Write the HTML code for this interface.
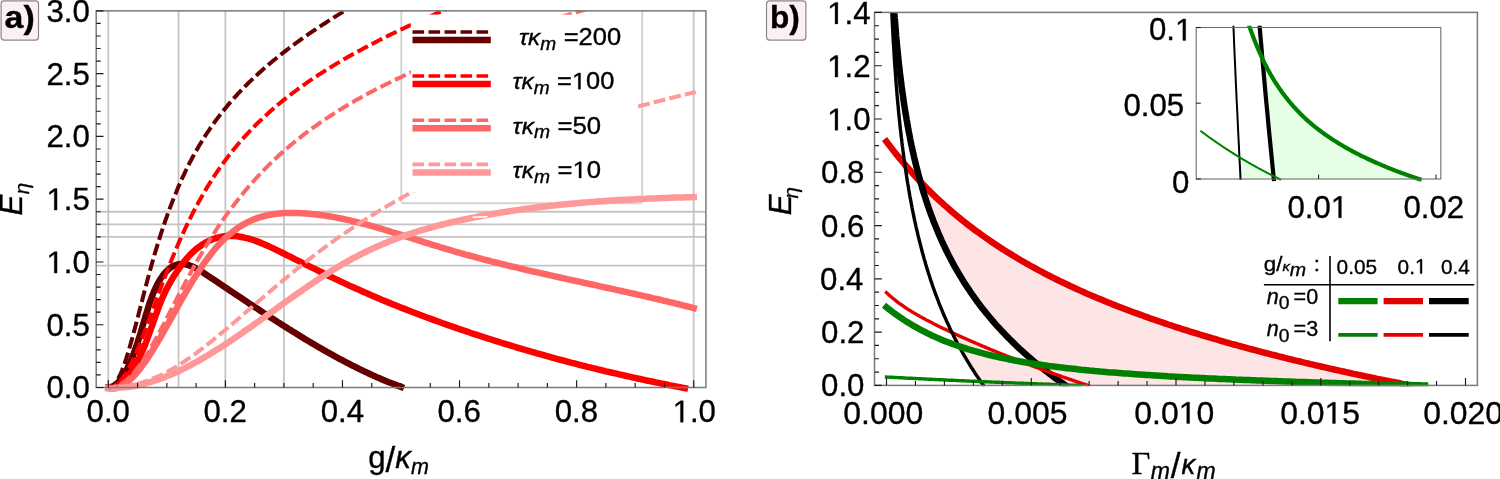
<!DOCTYPE html>
<html><head><meta charset="utf-8"><title>fig</title>
<style>
html,body{margin:0;padding:0;background:#fff;overflow:hidden;}
svg{display:block;}
text{font-family:"Liberation Sans",sans-serif;fill:#000;}
.i{font-style:italic;}
.ser{font-family:"Liberation Serif",serif;}
.tx text{stroke:#000;stroke-width:0.35px;}
.tx .h1{fill:none;stroke:none;}
.tx path{fill:#000;stroke:#000;stroke-width:0.35px;}
</style></head><body>
<svg width="1500" height="479" viewBox="0 0 1500 479">
<rect width="1500" height="479" fill="#fff"/>
<defs>
<clipPath id="ca"><rect x="96.2" y="10.85" width="609.7" height="381"/></clipPath>
<clipPath id="cb"><rect x="874.5" y="12.4" width="603" height="373.8"/></clipPath>
<clipPath id="ci"><rect x="1196.2" y="25.8" width="244.6" height="156"/></clipPath>
</defs>

<line x1="108.30" y1="10.85" x2="108.30" y2="387.50" stroke="#c4c4c4" stroke-width="1.8"/>
<line x1="178.55" y1="10.85" x2="178.55" y2="387.50" stroke="#c4c4c4" stroke-width="1.8"/>
<line x1="225.38" y1="10.85" x2="225.38" y2="387.50" stroke="#c4c4c4" stroke-width="1.8"/>
<line x1="283.92" y1="10.85" x2="283.92" y2="387.50" stroke="#c4c4c4" stroke-width="1.8"/>
<line x1="693.70" y1="10.85" x2="693.70" y2="387.50" stroke="#c4c4c4" stroke-width="1.8"/>
<line x1="96.20" y1="265.72" x2="705.90" y2="265.72" stroke="#c4c4c4" stroke-width="1.8"/>
<line x1="96.20" y1="236.84" x2="705.90" y2="236.84" stroke="#c4c4c4" stroke-width="1.8"/>
<line x1="96.20" y1="224.28" x2="705.90" y2="224.28" stroke="#c4c4c4" stroke-width="1.8"/>
<line x1="96.20" y1="211.73" x2="705.90" y2="211.73" stroke="#c4c4c4" stroke-width="1.8"/>
<g clip-path="url(#ca)"><rect x="401.3" y="2" width="240.9" height="201.2" rx="2.5" fill="#fff" stroke="#d3d3d3" stroke-width="1.9"/></g>
<g clip-path="url(#ca)"><path d="M108.3 387.2L109.6 387.2L111.0 387.0L112.3 386.6L113.6 386.0L115.0 385.1L116.3 384.1L117.7 382.9L119.0 381.5L120.3 379.9L121.7 378.1L123.0 376.2L124.3 374.0L125.7 371.7L127.0 369.1L128.3 366.4L129.7 363.5L131.0 360.4L132.4 357.1L133.7 353.7L135.0 350.0L136.4 346.2L137.7 342.2L139.0 338.0L140.4 333.7L141.7 329.2L143.0 324.7L144.4 320.2L145.7 315.7L147.1 311.2L148.4 306.9L149.7 302.8L151.1 299.0L152.4 295.4L153.7 292.1L155.1 289.0L156.4 286.2L157.8 283.6L159.1 281.2L160.4 279.0L161.8 277.0L163.1 275.1L164.4 273.5L165.8 272.0L167.1 270.6L168.4 269.4L169.8 268.3L171.1 267.3L172.5 266.5L173.8 265.8L175.1 265.3L176.5 264.8L177.8 264.5L179.1 264.2L180.5 264.1L181.8 264.0L183.1 264.1L184.5 264.2L185.8 264.4L187.2 264.7L188.5 265.1L189.8 265.6L191.2 266.1L192.5 266.6L193.8 267.2L195.2 267.9L196.5 268.6L197.8 269.3L199.2 270.1L200.5 270.9L201.9 271.8L203.2 272.6L204.5 273.5L205.9 274.4L207.2 275.3L208.5 276.2L209.9 277.1L211.2 278.0L212.5 278.8L213.9 279.7L215.2 280.6L216.6 281.5L217.9 282.4L219.2 283.3L220.6 284.2L221.9 285.1L223.2 286.0L224.6 286.9L225.9 287.8L227.3 288.7L228.6 289.6L229.9 290.5L231.3 291.4L232.6 292.3L233.9 293.2L235.3 294.1L236.6 295.0L237.9 295.8L239.3 296.7L240.6 297.6L242.0 298.5L243.3 299.4L244.6 300.3L246.0 301.2L247.3 302.1L248.6 303.0L250.0 303.9L251.3 304.7L252.6 305.6L254.0 306.5L255.3 307.4L256.7 308.3L258.0 309.1L259.3 310.0L260.7 310.9L262.0 311.8L263.3 312.7L264.7 313.5L266.0 314.4L267.3 315.3L268.7 316.1L270.0 317.0L271.4 317.9L272.7 318.7L274.0 319.6L275.4 320.5L276.7 321.3L278.0 322.2L279.4 323.0L280.7 323.9L282.0 324.7L283.4 325.6L284.7 326.4L286.1 327.3L287.4 328.1L288.7 329.0L290.1 329.8L291.4 330.6L292.7 331.5L294.1 332.3L295.4 333.1L296.8 334.0L298.1 334.8L299.4 335.6L300.8 336.4L302.1 337.2L303.4 338.0L304.8 338.9L306.1 339.7L307.4 340.5L308.8 341.3L310.1 342.1L311.5 342.9L312.8 343.7L314.1 344.4L315.5 345.2L316.8 346.0L318.1 346.8L319.5 347.6L320.8 348.3L322.1 349.1L323.5 349.9L324.8 350.6L326.2 351.4L327.5 352.2L328.8 352.9L330.2 353.7L331.5 354.4L332.8 355.1L334.2 355.9L335.5 356.6L336.8 357.3L338.2 358.1L339.5 358.8L340.9 359.5L342.2 360.2L343.5 360.9L344.9 361.6L346.2 362.3L347.5 363.0L348.9 363.7L350.2 364.4L351.5 365.1L352.9 365.8L354.2 366.4L355.6 367.1L356.9 367.8L358.2 368.4L359.6 369.1L360.9 369.7L362.2 370.4L363.6 371.0L364.9 371.7L366.3 372.3L367.6 372.9L368.9 373.6L370.3 374.2L371.6 374.8L372.9 375.4L374.3 376.0L375.6 376.6L376.9 377.2L378.3 377.8L379.6 378.3L381.0 378.9L382.3 379.5L383.6 380.1L385.0 380.6L386.3 381.2L387.6 381.7L389.0 382.3L390.3 382.8L391.6 383.3L393.0 383.8L394.3 384.4L395.7 384.9L397.0 385.4L398.3 385.9L399.7 386.4L401.0 386.9" stroke="#660000" stroke-width="6.5" fill="none" stroke-linecap="square" stroke-linejoin="round"/>
<path d="M108.3 387.4L110.9 387.4L113.6 387.0L116.2 386.0L118.8 384.7L121.5 382.8L124.1 380.5L126.7 377.7L129.4 374.4L132.0 370.7L134.6 366.4L137.3 361.7L139.9 356.4L142.5 350.7L145.2 344.4L147.8 337.6L150.4 330.4L153.1 322.9L155.7 315.4L158.3 308.1L161.0 301.4L163.6 295.3L166.2 289.7L168.9 284.7L171.5 280.1L174.1 275.8L176.8 271.8L179.4 267.9L182.0 264.3L184.7 260.9L187.3 257.8L189.9 254.9L192.6 252.3L195.2 249.9L197.8 247.8L200.5 245.8L203.1 244.0L205.7 242.5L208.4 241.1L211.0 239.9L213.6 238.8L216.3 238.0L218.9 237.3L221.5 236.7L224.2 236.3L226.8 236.1L229.4 235.9L232.0 235.9L234.7 236.1L237.3 236.3L239.9 236.7L242.6 237.2L245.2 237.8L247.8 238.4L250.5 239.2L253.1 240.0L255.7 240.9L258.4 241.9L261.0 242.9L263.6 244.0L266.3 245.2L268.9 246.3L271.5 247.6L274.2 248.8L276.8 250.1L279.4 251.4L282.1 252.7L284.7 254.0L287.3 255.3L290.0 256.7L292.6 258.0L295.2 259.3L297.9 260.6L300.5 261.9L303.1 263.2L305.8 264.5L308.4 265.8L311.0 267.1L313.7 268.4L316.3 269.7L318.9 271.0L321.6 272.3L324.2 273.6L326.8 274.9L329.5 276.2L332.1 277.4L334.7 278.7L337.4 279.9L340.0 281.2L342.6 282.4L345.3 283.6L347.9 284.9L350.5 286.1L353.2 287.3L355.8 288.5L358.4 289.6L361.1 290.8L363.7 292.0L366.3 293.1L369.0 294.3L371.6 295.4L374.2 296.5L376.9 297.7L379.5 298.8L382.1 299.9L384.8 301.0L387.4 302.1L390.0 303.1L392.7 304.2L395.3 305.3L397.9 306.3L400.6 307.4L403.2 308.4L405.8 309.4L408.5 310.5L411.1 311.5L413.7 312.5L416.4 313.5L419.0 314.5L421.6 315.5L424.3 316.5L426.9 317.5L429.5 318.4L432.2 319.4L434.8 320.4L437.4 321.3L440.1 322.3L442.7 323.2L445.3 324.1L448.0 325.1L450.6 326.0L453.2 326.9L455.9 327.8L458.5 328.7L461.1 329.6L463.8 330.5L466.4 331.4L469.0 332.3L471.6 333.2L474.3 334.1L476.9 334.9L479.5 335.8L482.2 336.7L484.8 337.5L487.4 338.4L490.1 339.2L492.7 340.0L495.3 340.9L498.0 341.7L500.6 342.5L503.2 343.3L505.9 344.1L508.5 344.9L511.1 345.7L513.8 346.5L516.4 347.3L519.0 348.1L521.7 348.9L524.3 349.7L526.9 350.4L529.6 351.2L532.2 352.0L534.8 352.7L537.5 353.5L540.1 354.2L542.7 354.9L545.4 355.7L548.0 356.4L550.6 357.1L553.3 357.9L555.9 358.6L558.5 359.3L561.2 360.0L563.8 360.7L566.4 361.4L569.1 362.1L571.7 362.8L574.3 363.4L577.0 364.1L579.6 364.8L582.2 365.5L584.9 366.1L587.5 366.8L590.1 367.4L592.8 368.1L595.4 368.7L598.0 369.4L600.7 370.0L603.3 370.6L605.9 371.3L608.6 371.9L611.2 372.5L613.8 373.1L616.5 373.7L619.1 374.3L621.7 374.9L624.4 375.5L627.0 376.1L629.6 376.7L632.3 377.3L634.9 377.9L637.5 378.5L640.2 379.0L642.8 379.6L645.4 380.2L648.1 380.7L650.7 381.3L653.3 381.8L656.0 382.4L658.6 382.9L661.2 383.5L663.9 384.0L666.5 384.5L669.1 385.1L671.8 385.6L674.4 386.1L677.0 386.6L679.7 387.1L682.3 387.7L684.9 388.2" stroke="#ff0000" stroke-width="6.5" fill="none" stroke-linecap="square" stroke-linejoin="round"/>
<path d="M108.3 388.4L111.0 388.8L113.6 388.7L116.3 388.2L119.0 387.3L121.7 386.0L124.3 384.4L127.0 382.5L129.7 380.2L132.4 377.6L135.0 374.8L137.7 371.7L140.4 368.3L143.0 364.7L145.7 361.0L148.4 357.0L151.1 352.8L153.7 348.6L156.4 344.1L159.1 339.6L161.8 335.0L164.4 330.3L167.1 325.5L169.8 320.7L172.5 315.9L175.1 311.1L177.8 306.3L180.5 301.6L183.1 296.9L185.8 292.3L188.5 287.7L191.2 283.3L193.8 278.9L196.5 274.7L199.2 270.5L201.9 266.5L204.5 262.7L207.2 258.9L209.9 255.4L212.5 252.0L215.2 248.7L217.9 245.7L220.6 242.8L223.2 240.1L225.9 237.5L228.6 235.1L231.3 232.9L233.9 230.8L236.6 228.8L239.3 227.0L242.0 225.4L244.6 223.8L247.3 222.4L250.0 221.1L252.6 219.9L255.3 218.9L258.0 217.9L260.7 217.0L263.3 216.3L266.0 215.6L268.7 215.0L271.4 214.5L274.0 214.1L276.7 213.8L279.4 213.5L282.0 213.3L284.7 213.1L287.4 213.0L290.1 213.0L292.7 213.0L295.4 213.0L298.1 213.1L300.8 213.2L303.4 213.3L306.1 213.5L308.8 213.7L311.5 214.0L314.1 214.2L316.8 214.5L319.5 214.9L322.1 215.2L324.8 215.6L327.5 216.0L330.2 216.5L332.8 216.9L335.5 217.4L338.2 218.0L340.9 218.5L343.5 219.0L346.2 219.6L348.9 220.2L351.5 220.9L354.2 221.5L356.9 222.1L359.6 222.8L362.2 223.5L364.9 224.2L367.6 224.9L370.3 225.7L372.9 226.4L375.6 227.2L378.3 228.0L381.0 228.7L383.6 229.5L386.3 230.3L389.0 231.1L391.6 232.0L394.3 232.8L397.0 233.6L399.7 234.4L402.3 235.3L405.0 236.1L407.7 237.0L410.4 237.8L413.0 238.7L415.7 239.5L418.4 240.4L421.0 241.2L423.7 242.1L426.4 242.9L429.1 243.7L431.7 244.6L434.4 245.4L437.1 246.2L439.8 247.0L442.4 247.8L445.1 248.6L447.8 249.4L450.5 250.2L453.1 251.0L455.8 251.8L458.5 252.5L461.1 253.3L463.8 254.0L466.5 254.8L469.2 255.5L471.8 256.2L474.5 256.9L477.2 257.7L479.9 258.4L482.5 259.1L485.2 259.8L487.9 260.5L490.5 261.2L493.2 261.8L495.9 262.5L498.6 263.2L501.2 263.8L503.9 264.5L506.6 265.2L509.3 265.8L511.9 266.5L514.6 267.1L517.3 267.7L520.0 268.4L522.6 269.0L525.3 269.6L528.0 270.3L530.6 270.9L533.3 271.5L536.0 272.1L538.7 272.7L541.3 273.3L544.0 273.9L546.7 274.5L549.4 275.1L552.0 275.7L554.7 276.3L557.4 276.9L560.0 277.5L562.7 278.1L565.4 278.7L568.1 279.3L570.7 279.9L573.4 280.5L576.1 281.0L578.8 281.6L581.4 282.2L584.1 282.8L586.8 283.4L589.5 284.0L592.1 284.5L594.8 285.1L597.5 285.7L600.1 286.3L602.8 286.9L605.5 287.5L608.2 288.0L610.8 288.6L613.5 289.2L616.2 289.8L618.9 290.4L621.5 291.0L624.2 291.6L626.9 292.2L629.5 292.8L632.2 293.4L634.9 294.0L637.6 294.6L640.2 295.2L642.9 295.8L645.6 296.4L648.3 297.0L650.9 297.6L653.6 298.3L656.3 298.9L659.0 299.5L661.6 300.2L664.3 300.8L667.0 301.4L669.6 302.1L672.3 302.7L675.0 303.4L677.7 304.0L680.3 304.7L683.0 305.4L685.7 306.0L688.4 306.7L691.0 307.4L693.7 308.1" stroke="#ff6666" stroke-width="6.5" fill="none" stroke-linecap="square" stroke-linejoin="round"/>
<path d="M108.3 387.8L111.0 387.9L113.6 387.9L116.3 387.9L119.0 387.8L121.7 387.6L124.3 387.3L127.0 387.0L129.7 386.7L132.4 386.3L135.0 385.8L137.7 385.3L140.4 384.7L143.0 384.1L145.7 383.4L148.4 382.6L151.1 381.8L153.7 381.0L156.4 380.1L159.1 379.2L161.8 378.2L164.4 377.2L167.1 376.1L169.8 375.0L172.5 373.9L175.1 372.7L177.8 371.5L180.5 370.2L183.1 368.9L185.8 367.6L188.5 366.2L191.2 364.8L193.8 363.3L196.5 361.9L199.2 360.4L201.9 358.8L204.5 357.3L207.2 355.7L209.9 354.1L212.5 352.4L215.2 350.8L217.9 349.1L220.6 347.4L223.2 345.7L225.9 343.9L228.6 342.2L231.3 340.4L233.9 338.6L236.6 336.7L239.3 334.9L242.0 333.1L244.6 331.2L247.3 329.3L250.0 327.5L252.6 325.6L255.3 323.7L258.0 321.8L260.7 319.9L263.3 318.0L266.0 316.0L268.7 314.1L271.4 312.2L274.0 310.3L276.7 308.4L279.4 306.4L282.0 304.5L284.7 302.6L287.4 300.7L290.1 298.8L292.7 296.9L295.4 295.0L298.1 293.1L300.8 291.3L303.4 289.4L306.1 287.6L308.8 285.7L311.5 283.9L314.1 282.1L316.8 280.3L319.5 278.6L322.1 276.8L324.8 275.1L327.5 273.4L330.2 271.7L332.8 270.0L335.5 268.4L338.2 266.8L340.9 265.2L343.5 263.6L346.2 262.1L348.9 260.6L351.5 259.1L354.2 257.7L356.9 256.3L359.6 254.9L362.2 253.6L364.9 252.2L367.6 250.9L370.3 249.7L372.9 248.4L375.6 247.2L378.3 246.1L381.0 244.9L383.6 243.8L386.3 242.7L389.0 241.6L391.6 240.5L394.3 239.5L397.0 238.5L399.7 237.5L402.3 236.5L405.0 235.6L407.7 234.7L410.4 233.8L413.0 232.9L415.7 232.1L418.4 231.2L421.0 230.4L423.7 229.6L426.4 228.8L429.1 228.1L431.7 227.3L434.4 226.6L437.1 225.9L439.8 225.2L442.4 224.5L445.1 223.8L447.8 223.2L450.5 222.5L453.1 221.9L455.8 221.3L458.5 220.7L461.1 220.1L463.8 219.5L466.5 219.0L469.2 218.4L471.8 217.9L474.5 217.4L477.2 216.8L479.9 216.3L482.5 215.8L485.2 215.3L487.9 214.8L490.5 214.4L493.2 213.9L495.9 213.4L498.6 213.0L501.2 212.5L503.9 212.1L506.6 211.7L509.3 211.3L511.9 210.9L514.6 210.5L517.3 210.1L520.0 209.7L522.6 209.3L525.3 208.9L528.0 208.6L530.6 208.2L533.3 207.9L536.0 207.5L538.7 207.2L541.3 206.9L544.0 206.6L546.7 206.2L549.4 205.9L552.0 205.6L554.7 205.4L557.4 205.1L560.0 204.8L562.7 204.5L565.4 204.3L568.1 204.0L570.7 203.7L573.4 203.5L576.1 203.3L578.8 203.0L581.4 202.8L584.1 202.6L586.8 202.4L589.5 202.1L592.1 201.9L594.8 201.7L597.5 201.5L600.1 201.3L602.8 201.2L605.5 201.0L608.2 200.8L610.8 200.6L613.5 200.5L616.2 200.3L618.9 200.1L621.5 200.0L624.2 199.8L626.9 199.7L629.5 199.5L632.2 199.4L634.9 199.3L637.6 199.1L640.2 199.0L642.9 198.9L645.6 198.8L648.3 198.6L650.9 198.5L653.6 198.4L656.3 198.3L659.0 198.2L661.6 198.1L664.3 198.0L667.0 197.9L669.6 197.8L672.3 197.7L675.0 197.6L677.7 197.6L680.3 197.5L683.0 197.4L685.7 197.3L688.4 197.2L691.0 197.2L693.7 197.1" stroke="#ff9999" stroke-width="6.5" fill="none" stroke-linecap="square" stroke-linejoin="round"/>
<path d="M108.3 387.5L109.5 387.4L110.8 387.0L112.0 386.3L113.2 385.3L114.5 384.1L115.7 382.5L116.9 380.7L118.2 378.6L119.4 376.3L120.7 373.6L121.9 370.7L123.1 367.6L124.4 364.2L125.6 360.5L126.8 356.7L128.1 352.7L129.3 348.6L130.5 344.3L131.8 339.8L133.0 335.3L134.2 330.7L135.5 326.0L136.7 321.3L138.0 316.5L139.2 311.8L140.4 307.0L141.7 302.2L142.9 297.4L144.1 292.7L145.4 288.0L146.6 283.3L147.8 278.7L149.1 274.1L150.3 269.6L151.5 265.2L152.8 260.8L154.0 256.5L155.2 252.3L156.5 248.1L157.7 244.1L159.0 240.1L160.2 236.2L161.4 232.3L162.7 228.6L163.9 224.9L165.1 221.3L166.4 217.8L167.6 214.3L168.8 210.9L170.1 207.6L171.3 204.4L172.5 201.2L173.8 198.0L175.0 195.0L176.3 192.0L177.5 189.0L178.7 186.1L180.0 183.3L181.2 180.5L182.4 177.8L183.7 175.1L184.9 172.5L186.1 170.0L187.4 167.4L188.6 165.0L189.8 162.5L191.1 160.2L192.3 157.8L193.6 155.5L194.8 153.3L196.0 151.1L197.3 148.9L198.5 146.8L199.7 144.7L201.0 142.7L202.2 140.7L203.4 138.7L204.7 136.7L205.9 134.8L207.1 132.9L208.4 131.1L209.6 129.3L210.8 127.5L212.1 125.7L213.3 124.0L214.6 122.2L215.8 120.5L217.0 118.9L218.3 117.2L219.5 115.6L220.7 114.0L222.0 112.5L223.2 110.9L224.4 109.4L225.7 107.9L226.9 106.4L228.1 104.9L229.4 103.4L230.6 102.0L231.9 100.6L233.1 99.2L234.3 97.8L235.6 96.4L236.8 95.1L238.0 93.7L239.3 92.4L240.5 91.1L241.7 89.8L243.0 88.5L244.2 87.3L245.4 86.0L246.7 84.8L247.9 83.5L249.1 82.3L250.4 81.1L251.6 79.9L252.9 78.8L254.1 77.6L255.3 76.4L256.6 75.3L257.8 74.1L259.0 73.0L260.3 71.9L261.5 70.8L262.7 69.7L264.0 68.6L265.2 67.5L266.4 66.4L267.7 65.4L268.9 64.3L270.2 63.3L271.4 62.2L272.6 61.2L273.9 60.2L275.1 59.2L276.3 58.2L277.6 57.2L278.8 56.2L280.0 55.2L281.3 54.2L282.5 53.2L283.7 52.3L285.0 51.3L286.2 50.4L287.5 49.4L288.7 48.5L289.9 47.5L291.2 46.6L292.4 45.7L293.6 44.8L294.9 43.9L296.1 43.0L297.3 42.1L298.6 41.2L299.8 40.3L301.0 39.4L302.3 38.5L303.5 37.7L304.7 36.8L306.0 35.9L307.2 35.1L308.5 34.2L309.7 33.4L310.9 32.5L312.2 31.7L313.4 30.8L314.6 30.0L315.9 29.2L317.1 28.3L318.3 27.5L319.6 26.7L320.8 25.9L322.0 25.1L323.3 24.3L324.5 23.5L325.8 22.7L327.0 21.9L328.2 21.1L329.5 20.3L330.7 19.5L331.9 18.7L333.2 18.0L334.4 17.2L335.6 16.4L336.9 15.6L338.1 14.9L339.3 14.1L340.6 13.4L341.8 12.6L343.0 11.9L344.3 11.1L345.5 10.4L346.8 9.6L348.0 8.9L349.2 8.1L350.5 7.4L351.7 6.7L352.9 5.9L354.2 5.2" stroke="#660000" stroke-width="4.0" fill="none" stroke-dasharray="11.8 4.3" stroke-dashoffset="2.3"/>
<path d="M108.3 387.5L110.1 387.4L111.8 386.9L113.6 386.3L115.4 385.3L117.1 384.0L118.9 382.4L120.7 380.6L122.4 378.5L124.2 376.0L126.0 373.3L127.7 370.4L129.5 367.2L131.2 363.7L133.0 360.0L134.8 356.1L136.5 352.1L138.3 347.8L140.1 343.5L141.8 339.0L143.6 334.4L145.4 329.7L147.1 325.0L148.9 320.2L150.7 315.4L152.4 310.5L154.2 305.7L156.0 300.9L157.7 296.1L159.5 291.3L161.3 286.5L163.0 281.8L164.8 277.2L166.5 272.6L168.3 268.1L170.1 263.6L171.8 259.2L173.6 254.9L175.4 250.7L177.1 246.5L178.9 242.4L180.7 238.4L182.4 234.5L184.2 230.7L186.0 226.9L187.7 223.3L189.5 219.6L191.3 216.1L193.0 212.7L194.8 209.3L196.6 205.9L198.3 202.7L200.1 199.5L201.8 196.4L203.6 193.3L205.4 190.3L207.1 187.4L208.9 184.5L210.7 181.7L212.4 178.9L214.2 176.2L216.0 173.5L217.7 170.9L219.5 168.3L221.3 165.8L223.0 163.4L224.8 160.9L226.6 158.6L228.3 156.2L230.1 154.0L231.9 151.7L233.6 149.5L235.4 147.4L237.1 145.3L238.9 143.2L240.7 141.1L242.4 139.1L244.2 137.1L246.0 135.2L247.7 133.3L249.5 131.4L251.3 129.6L253.0 127.8L254.8 126.0L256.6 124.2L258.3 122.5L260.1 120.8L261.9 119.1L263.6 117.4L265.4 115.8L267.2 114.2L268.9 112.6L270.7 111.0L272.4 109.5L274.2 107.9L276.0 106.4L277.7 104.9L279.5 103.5L281.3 102.0L283.0 100.6L284.8 99.2L286.6 97.8L288.3 96.4L290.1 95.0L291.9 93.7L293.6 92.3L295.4 91.0L297.2 89.7L298.9 88.4L300.7 87.1L302.5 85.9L304.2 84.6L306.0 83.4L307.7 82.2L309.5 80.9L311.3 79.7L313.0 78.5L314.8 77.4L316.6 76.2L318.3 75.0L320.1 73.9L321.9 72.8L323.6 71.6L325.4 70.5L327.2 69.4L328.9 68.3L330.7 67.2L332.5 66.1L334.2 65.1L336.0 64.0L337.8 62.9L339.5 61.9L341.3 60.9L343.0 59.8L344.8 58.8L346.6 57.8L348.3 56.8L350.1 55.8L351.9 54.8L353.6 53.8L355.4 52.8L357.2 51.9L358.9 50.9L360.7 49.9L362.5 49.0L364.2 48.0L366.0 47.1L367.8 46.2L369.5 45.2L371.3 44.3L373.1 43.4L374.8 42.5L376.6 41.6L378.3 40.7L380.1 39.8L381.9 38.9L383.6 38.0L385.4 37.1L387.2 36.3L388.9 35.4L390.7 34.5L392.5 33.7L394.2 32.8L396.0 32.0L397.8 31.1L399.5 30.3L401.3 29.4L403.1 28.6L404.8 27.8L406.6 26.9L408.4 26.1L410.1 25.3L411.9 24.5L413.6 23.7L415.4 22.9L417.2 22.1L418.9 21.3L420.7 20.5L422.5 19.7L424.2 18.9L426.0 18.1L427.8 17.3L429.5 16.5L431.3 15.8L433.1 15.0L434.8 14.2L436.6 13.4L438.4 12.7L440.1 11.9L441.9 11.2L443.7 10.4L445.4 9.7L447.2 8.9L448.9 8.2L450.7 7.4L452.5 6.7L454.2 5.9L456.0 5.2L457.8 4.5L459.5 3.7" stroke="#ff0000" stroke-width="4.0" fill="none" stroke-dasharray="11.8 4.3" stroke-dashoffset="2.7"/>
<path d="M108.3 387.5L110.8 387.4L113.4 386.9L115.9 386.2L118.4 385.2L120.9 383.9L123.5 382.3L126.0 380.4L128.5 378.2L131.1 375.7L133.6 373.0L136.1 369.9L138.7 366.6L141.2 363.1L143.7 359.3L146.2 355.3L148.8 351.2L151.3 346.8L153.8 342.4L156.4 337.8L158.9 333.1L161.4 328.4L164.0 323.6L166.5 318.7L169.0 313.8L171.5 308.9L174.1 304.0L176.6 299.1L179.1 294.2L181.7 289.4L184.2 284.6L186.7 279.9L189.3 275.2L191.8 270.6L194.3 266.0L196.8 261.5L199.4 257.1L201.9 252.8L204.4 248.5L207.0 244.4L209.5 240.3L212.0 236.3L214.6 232.3L217.1 228.5L219.6 224.7L222.1 221.1L224.7 217.4L227.2 213.9L229.7 210.4L232.3 207.1L234.8 203.7L237.3 200.5L239.9 197.3L242.4 194.2L244.9 191.1L247.4 188.1L250.0 185.2L252.5 182.3L255.0 179.5L257.6 176.7L260.1 174.0L262.6 171.4L265.2 168.7L267.7 166.2L270.2 163.7L272.7 161.2L275.3 158.8L277.8 156.5L280.3 154.1L282.9 151.9L285.4 149.6L287.9 147.5L290.5 145.3L293.0 143.2L295.5 141.1L298.0 139.1L300.6 137.1L303.1 135.1L305.6 133.2L308.2 131.3L310.7 129.4L313.2 127.6L315.7 125.8L318.3 124.0L320.8 122.2L323.3 120.5L325.9 118.8L328.4 117.1L330.9 115.5L333.5 113.8L336.0 112.2L338.5 110.6L341.0 109.1L343.6 107.5L346.1 106.0L348.6 104.5L351.2 103.0L353.7 101.6L356.2 100.1L358.8 98.7L361.3 97.3L363.8 95.9L366.3 94.5L368.9 93.1L371.4 91.8L373.9 90.5L376.5 89.1L379.0 87.8L381.5 86.6L384.1 85.3L386.6 84.0L389.1 82.8L391.6 81.5L394.2 80.3L396.7 79.1L399.2 77.9L401.8 76.7L404.3 75.5L406.8 74.4L409.4 73.2L411.9 72.0L414.4 70.9L416.9 69.8L419.5 68.7L422.0 67.6L424.5 66.5L427.1 65.4L429.6 64.3L432.1 63.2L434.7 62.2L437.2 61.1L439.7 60.1L442.2 59.0L444.8 58.0L447.3 57.0L449.8 56.0L452.4 55.0L454.9 54.0L457.4 53.0L460.0 52.0L462.5 51.0L465.0 50.0L467.5 49.1L470.1 48.1L472.6 47.2L475.1 46.2L477.7 45.3L480.2 44.3L482.7 43.4L485.3 42.5L487.8 41.6L490.3 40.6L492.8 39.7L495.4 38.8L497.9 37.9L500.4 37.1L503.0 36.2L505.5 35.3L508.0 34.4L510.5 33.5L513.1 32.7L515.6 31.8L518.1 30.9L520.7 30.1L523.2 29.2L525.7 28.4L528.3 27.6L530.8 26.7L533.3 25.9L535.8 25.1L538.4 24.2L540.9 23.4L543.4 22.6L546.0 21.8L548.5 21.0L551.0 20.2L553.6 19.4L556.1 18.6L558.6 17.8L561.1 17.0L563.7 16.2L566.2 15.4L568.7 14.6L571.3 13.9L573.8 13.1L576.3 12.3L578.9 11.5L581.4 10.8L583.9 10.0L586.4 9.2L589.0 8.5L591.5 7.7L594.0 7.0L596.6 6.2L599.1 5.5L601.6 4.7L604.2 4.0L606.7 3.3L609.2 2.5L611.7 1.8" stroke="#ff6666" stroke-width="4.0" fill="none" stroke-dasharray="11.8 4.3" stroke-dashoffset="2.6"/>
<path d="M108.3 387.5L111.3 387.5L114.2 387.3L117.2 387.2L120.1 386.9L123.1 386.5L126.0 386.1L129.0 385.6L131.9 385.0L134.9 384.3L137.8 383.6L140.8 382.8L143.7 381.8L146.7 380.8L149.6 379.8L152.6 378.6L155.5 377.4L158.5 376.1L161.4 374.7L164.4 373.2L167.3 371.7L170.3 370.0L173.2 368.4L176.2 366.6L179.1 364.8L182.1 362.9L185.1 360.9L188.0 358.9L191.0 356.9L193.9 354.8L196.9 352.6L199.8 350.4L202.8 348.2L205.7 345.9L208.7 343.5L211.6 341.2L214.6 338.8L217.5 336.4L220.5 333.9L223.4 331.5L226.4 329.0L229.3 326.5L232.3 324.0L235.2 321.4L238.2 318.9L241.1 316.3L244.1 313.8L247.0 311.2L250.0 308.7L252.9 306.1L255.9 303.6L258.9 301.0L261.8 298.5L264.8 295.9L267.7 293.4L270.7 290.9L273.6 288.3L276.6 285.8L279.5 283.4L282.5 280.9L285.4 278.4L288.4 276.0L291.3 273.6L294.3 271.1L297.2 268.7L300.2 266.4L303.1 264.0L306.1 261.7L309.0 259.4L312.0 257.1L314.9 254.8L317.9 252.6L320.8 250.3L323.8 248.1L326.7 245.9L329.7 243.8L332.7 241.6L335.6 239.5L338.6 237.4L341.5 235.4L344.5 233.3L347.4 231.3L350.4 229.3L353.3 227.3L356.3 225.4L359.2 223.4L362.2 221.5L365.1 219.6L368.1 217.7L371.0 215.9L374.0 214.0L376.9 212.2L379.9 210.4L382.8 208.6L385.8 206.9L388.7 205.1L391.7 203.4L394.6 201.7L397.6 200.0L400.5 198.4L403.5 196.7L406.5 195.1L409.4 193.5L412.4 191.9L415.3 190.3L418.3 188.7L421.2 187.2L424.2 185.7L427.1 184.1L430.1 182.6L433.0 181.2L436.0 179.7L438.9 178.2L441.9 176.8L444.8 175.4L447.8 174.0L450.7 172.6L453.7 171.2L456.6 169.8L459.6 168.5L462.5 167.2L465.5 165.8L468.4 164.5L471.4 163.2L474.3 161.9L477.3 160.7L480.3 159.4L483.2 158.2L486.2 156.9L489.1 155.7L492.1 154.5L495.0 153.3L498.0 152.1L500.9 151.0L503.9 149.8L506.8 148.7L509.8 147.5L512.7 146.4L515.7 145.3L518.6 144.2L521.6 143.1L524.5 142.0L527.5 140.9L530.4 139.9L533.4 138.8L536.3 137.8L539.3 136.7L542.2 135.7L545.2 134.7L548.1 133.7L551.1 132.7L554.1 131.7L557.0 130.7L560.0 129.7L562.9 128.8L565.9 127.8L568.8 126.8L571.8 125.9L574.7 125.0L577.7 124.0L580.6 123.1L583.6 122.2L586.5 121.3L589.5 120.4L592.4 119.5L595.4 118.6L598.3 117.8L601.3 116.9L604.2 116.0L607.2 115.2L610.1 114.3L613.1 113.5L616.0 112.6L619.0 111.8L621.9 111.0L624.9 110.1L627.9 109.3L630.8 108.5L633.8 107.7L636.7 106.9L639.7 106.1L642.6 105.3L645.6 104.6L648.5 103.8L651.5 103.0L654.4 102.2L657.4 101.5L660.3 100.7L663.3 100.0L666.2 99.2L669.2 98.5L672.1 97.7L675.1 97.0L678.0 96.3L681.0 95.6L683.9 94.8L686.9 94.1L689.8 93.4L692.8 92.7L695.7 92.0" stroke="#ff9999" stroke-width="4.0" fill="none" stroke-dasharray="11.8 4.3" stroke-dashoffset="3.4"/></g>
<line x1="472.5" y1="217.3" x2="487.5" y2="216.7" stroke="#fff" stroke-width="1.6"/>
<rect x="410.8" y="14.6" width="227.2" height="178" fill="#fff"/>
<rect x="96.20" y="10.85" width="609.70" height="376.65" fill="none" stroke="#7a7a7a" stroke-width="1.5"/>
<path d="M108.30 387.50v-7.3M137.57 387.50v-4.5M166.84 387.50v-4.5M196.11 387.50v-4.5M225.38 387.50v-7.3M254.65 387.50v-4.5M283.92 387.50v-4.5M313.19 387.50v-4.5M342.46 387.50v-7.3M371.73 387.50v-4.5M401.00 387.50v-4.5M430.27 387.50v-4.5M459.54 387.50v-7.3M488.81 387.50v-4.5M518.08 387.50v-4.5M547.35 387.50v-4.5M576.62 387.50v-7.3M605.89 387.50v-4.5M635.16 387.50v-4.5M664.43 387.50v-4.5M693.70 387.50v-7.3M96.20 387.50h7.3M96.20 374.94h4.5M96.20 362.39h4.5M96.20 349.83h4.5M96.20 337.28h4.5M96.20 324.73h7.3M96.20 312.17h4.5M96.20 299.62h4.5M96.20 287.06h4.5M96.20 274.50h4.5M96.20 261.95h7.3M96.20 249.39h4.5M96.20 236.84h4.5M96.20 224.28h4.5M96.20 211.73h4.5M96.20 199.18h7.3M96.20 186.62h4.5M96.20 174.06h4.5M96.20 161.51h4.5M96.20 148.95h4.5M96.20 136.40h7.3M96.20 123.84h4.5M96.20 111.29h4.5M96.20 98.73h4.5M96.20 86.18h4.5M96.20 73.62h7.3M96.20 61.07h4.5M96.20 48.51h4.5M96.20 35.96h4.5M96.20 23.40h4.5M96.20 10.85h7.3" stroke="#1a1a1a" stroke-width="1.15" fill="none"/>
<rect x="1.1" y="0.9" width="37.4" height="39.2" rx="3" fill="#fdf0f4" stroke="#888" stroke-width="1.2"/>
<line x1="412.5" y1="32.0" x2="490.8" y2="32.0" stroke="#660000" stroke-width="3.6" stroke-dasharray="11.6 4.4"/>
<line x1="412.5" y1="40.0" x2="490.8" y2="40.0" stroke="#660000" stroke-width="6.5"/>
<line x1="412.5" y1="76.0" x2="490.8" y2="76.0" stroke="#ff0000" stroke-width="3.6" stroke-dasharray="11.6 4.4"/>
<line x1="412.5" y1="84.1" x2="490.8" y2="84.1" stroke="#ff0000" stroke-width="6.5"/>
<line x1="412.5" y1="120.2" x2="490.8" y2="120.2" stroke="#ff6666" stroke-width="3.6" stroke-dasharray="11.6 4.4"/>
<line x1="412.5" y1="128.3" x2="490.8" y2="128.3" stroke="#ff6666" stroke-width="6.5"/>
<line x1="412.5" y1="164.4" x2="490.8" y2="164.4" stroke="#ff9999" stroke-width="3.6" stroke-dasharray="11.6 4.4"/>
<line x1="412.5" y1="172.5" x2="490.8" y2="172.5" stroke="#ff9999" stroke-width="6.5"/>
<g clip-path="url(#cb)"><path d="M920.5 182.1L921.1 184.1L921.7 186.0L922.2 188.0L922.8 190.0L923.4 191.9L924.0 193.9L924.6 195.8L925.3 197.8L925.9 199.7L926.5 201.7L927.2 203.6L927.8 205.6L928.5 207.5L929.2 209.5L929.9 211.5L930.6 213.4L931.3 215.4L932.1 217.3L932.8 219.3L933.5 221.2L934.3 223.2L935.1 225.1L935.9 227.1L936.7 229.0L937.5 231.0L938.3 232.9L939.1 234.9L940.0 236.9L940.9 238.8L941.7 240.8L942.6 242.7L943.5 244.7L944.5 246.6L945.4 248.6L946.3 250.5L947.3 252.5L948.3 254.4L949.3 256.4L950.3 258.4L951.3 260.3L952.4 262.3L953.4 264.2L954.5 266.2L955.6 268.1L956.7 270.1L957.9 272.0L959.0 274.0L960.2 275.9L961.4 277.9L962.6 279.9L963.8 281.8L965.0 283.8L966.3 285.7L967.6 287.7L968.9 289.6L970.2 291.6L971.5 293.5L972.9 295.5L974.3 297.4L975.7 299.4L977.1 301.4L978.6 303.3L980.0 305.3L981.5 307.2L983.1 309.2L984.6 311.1L986.2 313.1L987.8 315.0L989.4 317.0L991.0 318.9L992.7 320.9L994.4 322.9L996.1 324.8L997.9 326.8L999.7 328.7L1001.5 330.7L1003.3 332.6L1005.2 334.6L1007.1 336.5L1009.0 338.5L1011.0 340.4L1013.0 342.4L1015.0 344.4L1017.0 346.3L1019.1 348.3L1021.2 350.2L1023.4 352.2L1025.6 354.1L1027.8 356.1L1030.0 358.0L1032.3 360.0L1034.6 361.9L1037.0 363.9L1039.4 365.9L1041.8 367.8L1044.3 369.8L1046.8 371.7L1049.4 373.7L1052.0 375.6L1054.6 377.6L1057.3 379.5L1060.0 381.5L1062.8 383.4L1065.6 385.4L1410.5 385.4L1407.9 384.9L1405.2 384.4L1402.6 383.9L1400.0 383.3L1397.3 382.8L1394.7 382.3L1392.1 381.8L1389.4 381.2L1386.8 380.7L1384.2 380.2L1381.5 379.6L1378.9 379.1L1376.3 378.6L1373.6 378.0L1371.0 377.5L1368.4 376.9L1365.7 376.4L1363.1 375.8L1360.5 375.2L1357.8 374.7L1355.2 374.1L1352.6 373.6L1349.9 373.0L1347.3 372.4L1344.7 371.8L1342.0 371.3L1339.4 370.7L1336.8 370.1L1334.1 369.5L1331.5 368.9L1328.9 368.3L1326.2 367.7L1323.6 367.1L1321.0 366.5L1318.3 365.9L1315.7 365.3L1313.1 364.7L1310.4 364.1L1307.8 363.4L1305.2 362.8L1302.5 362.2L1299.9 361.5L1297.3 360.9L1294.6 360.3L1292.0 359.6L1289.4 359.0L1286.7 358.3L1284.1 357.7L1281.5 357.0L1278.8 356.4L1276.2 355.7L1273.6 355.0L1270.9 354.4L1268.3 353.7L1265.7 353.0L1263.0 352.3L1260.4 351.6L1257.8 350.9L1255.1 350.2L1252.5 349.5L1249.9 348.8L1247.2 348.1L1244.6 347.4L1242.0 346.7L1239.3 346.0L1236.7 345.2L1234.1 344.5L1231.4 343.8L1228.8 343.0L1226.2 342.3L1223.5 341.5L1220.9 340.8L1218.3 340.0L1215.6 339.2L1213.0 338.5L1210.4 337.7L1207.7 336.9L1205.1 336.1L1202.5 335.3L1199.8 334.5L1197.2 333.7L1194.6 332.9L1191.9 332.1L1189.3 331.3L1186.7 330.4L1184.0 329.6L1181.4 328.8L1178.8 327.9L1176.1 327.1L1173.5 326.2L1170.9 325.3L1168.2 324.5L1165.6 323.6L1163.0 322.7L1160.3 321.8L1157.7 320.9L1155.1 320.0L1152.4 319.1L1149.8 318.2L1147.2 317.2L1144.5 316.3L1141.9 315.3L1139.3 314.4L1136.6 313.4L1134.0 312.5L1131.4 311.5L1128.7 310.5L1126.1 309.5L1123.5 308.5L1120.8 307.5L1118.2 306.5L1115.6 305.4L1113.0 304.4L1110.3 303.3L1107.7 302.3L1105.1 301.2L1102.4 300.1L1099.8 299.0L1097.2 297.9L1094.5 296.8L1091.9 295.7L1089.3 294.6L1086.6 293.4L1084.0 292.3L1081.4 291.1L1078.7 289.9L1076.1 288.7L1073.5 287.5L1070.8 286.3L1068.2 285.0L1065.6 283.8L1062.9 282.5L1060.3 281.3L1057.7 280.0L1055.0 278.7L1052.4 277.3L1049.8 276.0L1047.1 274.7L1044.5 273.3L1041.9 271.9L1039.2 270.5L1036.6 269.1L1034.0 267.7L1031.3 266.2L1028.7 264.7L1026.1 263.3L1023.4 261.7L1020.8 260.2L1018.2 258.7L1015.5 257.1L1012.9 255.5L1010.3 253.9L1007.6 252.3L1005.0 250.6L1002.4 248.9L999.7 247.2L997.1 245.5L994.5 243.8L991.8 242.0L989.2 240.2L986.6 238.4L983.9 236.5L981.3 234.6L978.7 232.7L976.0 230.8L973.4 228.8L970.8 226.8L968.1 224.8L965.5 222.8L962.9 220.7L960.2 218.6L957.6 216.4L955.0 214.2L952.3 212.0L949.7 209.7L947.1 207.4L944.4 205.1L941.8 202.7L939.2 200.3L936.5 197.8L933.9 195.3L931.3 192.8L928.6 190.2L926.0 187.5L923.4 184.8L920.7 182.1Z" fill="#fde5e5"/>
<path d="M952.0 332.6L953.0 334.6L953.9 336.5L954.9 338.5L955.9 340.4L957.0 342.4L958.0 344.4L959.0 346.3L960.1 348.3L961.2 350.2L962.3 352.2L963.4 354.1L964.5 356.1L965.7 358.0L966.8 360.0L968.0 361.9L969.2 363.9L970.4 365.9L971.6 367.8L972.9 369.8L974.1 371.7L975.4 373.7L976.7 375.6L978.0 377.6L979.4 379.5L980.7 381.5L982.1 383.4L983.5 385.4L1087.7 385.3L1086.7 385.0L1085.7 384.6L1084.7 384.3L1083.7 384.0L1082.6 383.6L1081.6 383.3L1080.6 383.0L1079.6 382.6L1078.6 382.3L1077.6 382.0L1076.6 381.6L1075.6 381.3L1074.6 380.9L1073.5 380.6L1072.5 380.2L1071.5 379.9L1070.5 379.5L1069.5 379.2L1068.5 378.9L1067.5 378.5L1066.5 378.2L1065.5 377.8L1064.4 377.5L1063.4 377.1L1062.4 376.8L1061.4 376.4L1060.4 376.0L1059.4 375.7L1058.4 375.3L1057.4 375.0L1056.4 374.6L1055.3 374.3L1054.3 373.9L1053.3 373.5L1052.3 373.2L1051.3 372.8L1050.3 372.5L1049.3 372.1L1048.3 371.7L1047.3 371.4L1046.2 371.0L1045.2 370.6L1044.2 370.3L1043.2 369.9L1042.2 369.5L1041.2 369.2L1040.2 368.8L1039.2 368.4L1038.2 368.0L1037.1 367.7L1036.1 367.3L1035.1 366.9L1034.1 366.5L1033.1 366.2L1032.1 365.8L1031.1 365.4L1030.1 365.0L1029.1 364.6L1028.0 364.3L1027.0 363.9L1026.0 363.5L1025.0 363.1L1024.0 362.7L1023.0 362.3L1022.0 361.9L1021.0 361.6L1020.0 361.2L1018.9 360.8L1017.9 360.4L1016.9 360.0L1015.9 359.6L1014.9 359.2L1013.9 358.8L1012.9 358.4L1011.9 358.0L1010.9 357.6L1009.9 357.2L1008.8 356.8L1007.8 356.4L1006.8 356.0L1005.8 355.6L1004.8 355.2L1003.8 354.8L1002.8 354.4L1001.8 354.0L1000.8 353.6L999.7 353.2L998.7 352.8L997.7 352.4L996.7 351.9L995.7 351.5L994.7 351.1L993.7 350.7L992.7 350.3L991.7 349.9L990.6 349.5L989.6 349.0L988.6 348.6L987.6 348.2L986.6 347.8L985.6 347.3L984.6 346.9L983.6 346.5L982.6 346.1L981.5 345.6L980.5 345.2L979.5 344.8L978.5 344.3L977.5 343.9L976.5 343.5L975.5 343.0L974.5 342.6L973.5 342.2L972.4 341.7L971.4 341.3L970.4 340.8L969.4 340.4L968.4 340.0L967.4 339.5L966.4 339.1L965.4 338.6L964.4 338.2L963.3 337.7L962.3 337.3L961.3 336.8L960.3 336.4L959.3 335.9L958.3 335.4L957.3 335.0L956.3 334.5L955.3 334.1L954.2 333.6L953.2 333.1L952.2 332.7Z" fill="#fde5e5"/>
<path d="M886.5 141.6L889.1 145.1L891.8 148.5L894.4 151.9L897.0 155.2L899.7 158.4L902.3 161.5L904.9 164.6L907.6 167.7L910.2 170.7L912.8 173.6L915.5 176.5L918.1 179.3L920.7 182.1L923.4 184.8L926.0 187.5L928.6 190.2L931.3 192.8L933.9 195.3L936.5 197.8L939.2 200.3L941.8 202.7L944.4 205.1L947.1 207.4L949.7 209.7L952.3 212.0L955.0 214.2L957.6 216.4L960.2 218.6L962.9 220.7L965.5 222.8L968.1 224.8L970.8 226.8L973.4 228.8L976.0 230.8L978.7 232.7L981.3 234.6L983.9 236.5L986.6 238.4L989.2 240.2L991.8 242.0L994.5 243.8L997.1 245.5L999.7 247.2L1002.4 248.9L1005.0 250.6L1007.6 252.3L1010.3 253.9L1012.9 255.5L1015.5 257.1L1018.2 258.7L1020.8 260.2L1023.4 261.7L1026.1 263.3L1028.7 264.7L1031.3 266.2L1034.0 267.7L1036.6 269.1L1039.2 270.5L1041.9 271.9L1044.5 273.3L1047.1 274.7L1049.8 276.0L1052.4 277.3L1055.0 278.7L1057.7 280.0L1060.3 281.3L1062.9 282.5L1065.6 283.8L1068.2 285.0L1070.8 286.3L1073.5 287.5L1076.1 288.7L1078.7 289.9L1081.4 291.1L1084.0 292.3L1086.6 293.4L1089.3 294.6L1091.9 295.7L1094.5 296.8L1097.2 297.9L1099.8 299.0L1102.4 300.1L1105.1 301.2L1107.7 302.3L1110.3 303.3L1113.0 304.4L1115.6 305.4L1118.2 306.5L1120.8 307.5L1123.5 308.5L1126.1 309.5L1128.7 310.5L1131.4 311.5L1134.0 312.5L1136.6 313.4L1139.3 314.4L1141.9 315.3L1144.5 316.3L1147.2 317.2L1149.8 318.2L1152.4 319.1L1155.1 320.0L1157.7 320.9L1160.3 321.8L1163.0 322.7L1165.6 323.6L1168.2 324.5L1170.9 325.3L1173.5 326.2L1176.1 327.1L1178.8 327.9L1181.4 328.8L1184.0 329.6L1186.7 330.4L1189.3 331.3L1191.9 332.1L1194.6 332.9L1197.2 333.7L1199.8 334.5L1202.5 335.3L1205.1 336.1L1207.7 336.9L1210.4 337.7L1213.0 338.5L1215.6 339.2L1218.3 340.0L1220.9 340.8L1223.5 341.5L1226.2 342.3L1228.8 343.0L1231.4 343.8L1234.1 344.5L1236.7 345.2L1239.3 346.0L1242.0 346.7L1244.6 347.4L1247.2 348.1L1249.9 348.8L1252.5 349.5L1255.1 350.2L1257.8 350.9L1260.4 351.6L1263.0 352.3L1265.7 353.0L1268.3 353.7L1270.9 354.4L1273.6 355.0L1276.2 355.7L1278.8 356.4L1281.5 357.0L1284.1 357.7L1286.7 358.3L1289.4 359.0L1292.0 359.6L1294.6 360.3L1297.3 360.9L1299.9 361.5L1302.5 362.2L1305.2 362.8L1307.8 363.4L1310.4 364.1L1313.1 364.7L1315.7 365.3L1318.3 365.9L1321.0 366.5L1323.6 367.1L1326.2 367.7L1328.9 368.3L1331.5 368.9L1334.1 369.5L1336.8 370.1L1339.4 370.7L1342.0 371.3L1344.7 371.8L1347.3 372.4L1349.9 373.0L1352.6 373.6L1355.2 374.1L1357.8 374.7L1360.5 375.2L1363.1 375.8L1365.7 376.4L1368.4 376.9L1371.0 377.5L1373.6 378.0L1376.3 378.6L1378.9 379.1L1381.5 379.6L1384.2 380.2L1386.8 380.7L1389.4 381.2L1392.1 381.8L1394.7 382.3L1397.3 382.8L1400.0 383.3L1402.6 383.9L1405.2 384.4L1407.9 384.9L1410.5 385.4" stroke="#e50000" stroke-width="6.5" fill="none" stroke-linecap="square" stroke-linejoin="round"/>
<path d="M893.2 -3.5L893.3 -1.6L893.5 0.4L893.6 2.3L893.7 4.3L893.9 6.2L894.0 8.2L894.1 10.1L894.3 12.1L894.4 14.0L894.6 16.0L894.7 18.0L894.9 19.9L895.0 21.9L895.2 23.8L895.3 25.8L895.5 27.7L895.6 29.7L895.8 31.6L896.0 33.6L896.1 35.5L896.3 37.5L896.5 39.5L896.7 41.4L896.8 43.4L897.0 45.3L897.2 47.3L897.4 49.2L897.6 51.2L897.8 53.1L898.0 55.1L898.2 57.0L898.4 59.0L898.6 61.0L898.8 62.9L899.0 64.9L899.2 66.8L899.5 68.8L899.7 70.7L899.9 72.7L900.1 74.6L900.4 76.6L900.6 78.5L900.9 80.5L901.1 82.5L901.4 84.4L901.6 86.4L901.9 88.3L902.1 90.3L902.4 92.2L902.7 94.2L903.0 96.1L903.2 98.1L903.5 100.0L903.8 102.0L904.1 104.0L904.4 105.9L904.7 107.9L905.0 109.8L905.3 111.8L905.6 113.7L906.0 115.7L906.3 117.6L906.6 119.6L907.0 121.5L907.3 123.5L907.6 125.5L908.0 127.4L908.4 129.4L908.7 131.3L909.1 133.3L909.5 135.2L909.9 137.2L910.2 139.1L910.6 141.1L911.0 143.0L911.4 145.0L911.9 147.0L912.3 148.9L912.7 150.9L913.1 152.8L913.6 154.8L914.0 156.7L914.5 158.7L914.9 160.6L915.4 162.6L915.9 164.5L916.4 166.5L916.9 168.5L917.4 170.4L917.9 172.4L918.4 174.3L918.9 176.3L919.5 178.2L920.0 180.2L920.5 182.1L921.1 184.1L921.7 186.0L922.2 188.0L922.8 190.0L923.4 191.9L924.0 193.9L924.6 195.8L925.3 197.8L925.9 199.7L926.5 201.7L927.2 203.6L927.8 205.6L928.5 207.5L929.2 209.5L929.9 211.5L930.6 213.4L931.3 215.4L932.1 217.3L932.8 219.3L933.5 221.2L934.3 223.2L935.1 225.1L935.9 227.1L936.7 229.0L937.5 231.0L938.3 232.9L939.1 234.9L940.0 236.9L940.9 238.8L941.7 240.8L942.6 242.7L943.5 244.7L944.5 246.6L945.4 248.6L946.3 250.5L947.3 252.5L948.3 254.4L949.3 256.4L950.3 258.4L951.3 260.3L952.4 262.3L953.4 264.2L954.5 266.2L955.6 268.1L956.7 270.1L957.9 272.0L959.0 274.0L960.2 275.9L961.4 277.9L962.6 279.9L963.8 281.8L965.0 283.8L966.3 285.7L967.6 287.7L968.9 289.6L970.2 291.6L971.5 293.5L972.9 295.5L974.3 297.4L975.7 299.4L977.1 301.4L978.6 303.3L980.0 305.3L981.5 307.2L983.1 309.2L984.6 311.1L986.2 313.1L987.8 315.0L989.4 317.0L991.0 318.9L992.7 320.9L994.4 322.9L996.1 324.8L997.9 326.8L999.7 328.7L1001.5 330.7L1003.3 332.6L1005.2 334.6L1007.1 336.5L1009.0 338.5L1011.0 340.4L1013.0 342.4L1015.0 344.4L1017.0 346.3L1019.1 348.3L1021.2 350.2L1023.4 352.2L1025.6 354.1L1027.8 356.1L1030.0 358.0L1032.3 360.0L1034.6 361.9L1037.0 363.9L1039.4 365.9L1041.8 367.8L1044.3 369.8L1046.8 371.7L1049.4 373.7L1052.0 375.6L1054.6 377.6L1057.3 379.5L1060.0 381.5L1062.8 383.4L1065.6 385.4" stroke="#000" stroke-width="6.5" fill="none" stroke-linecap="square" stroke-linejoin="round"/>
<path d="M886.5 292.7L887.5 293.6L888.5 294.6L889.5 295.5L890.5 296.4L891.6 297.2L892.6 298.1L893.6 298.9L894.6 299.7L895.6 300.5L896.6 301.3L897.6 302.1L898.6 302.9L899.6 303.6L900.7 304.3L901.7 305.0L902.7 305.7L903.7 306.4L904.7 307.1L905.7 307.8L906.7 308.5L907.7 309.1L908.7 309.8L909.8 310.4L910.8 311.0L911.8 311.6L912.8 312.3L913.8 312.9L914.8 313.5L915.8 314.0L916.8 314.6L917.8 315.2L918.9 315.8L919.9 316.4L920.9 316.9L921.9 317.5L922.9 318.0L923.9 318.6L924.9 319.1L925.9 319.7L926.9 320.2L928.0 320.7L929.0 321.3L930.0 321.8L931.0 322.3L932.0 322.8L933.0 323.4L934.0 323.9L935.0 324.4L936.0 324.9L937.1 325.4L938.1 325.9L939.1 326.4L940.1 326.9L941.1 327.4L942.1 327.9L943.1 328.4L944.1 328.8L945.1 329.3L946.2 329.8L947.2 330.3L948.2 330.8L949.2 331.2L950.2 331.7L951.2 332.2L952.2 332.7L953.2 333.1L954.2 333.6L955.3 334.1L956.3 334.5L957.3 335.0L958.3 335.4L959.3 335.9L960.3 336.4L961.3 336.8L962.3 337.3L963.3 337.7L964.4 338.2L965.4 338.6L966.4 339.1L967.4 339.5L968.4 340.0L969.4 340.4L970.4 340.8L971.4 341.3L972.4 341.7L973.5 342.2L974.5 342.6L975.5 343.0L976.5 343.5L977.5 343.9L978.5 344.3L979.5 344.8L980.5 345.2L981.5 345.6L982.6 346.1L983.6 346.5L984.6 346.9L985.6 347.3L986.6 347.8L987.6 348.2L988.6 348.6L989.6 349.0L990.6 349.5L991.7 349.9L992.7 350.3L993.7 350.7L994.7 351.1L995.7 351.5L996.7 351.9L997.7 352.4L998.7 352.8L999.7 353.2L1000.8 353.6L1001.8 354.0L1002.8 354.4L1003.8 354.8L1004.8 355.2L1005.8 355.6L1006.8 356.0L1007.8 356.4L1008.8 356.8L1009.9 357.2L1010.9 357.6L1011.9 358.0L1012.9 358.4L1013.9 358.8L1014.9 359.2L1015.9 359.6L1016.9 360.0L1017.9 360.4L1018.9 360.8L1020.0 361.2L1021.0 361.6L1022.0 361.9L1023.0 362.3L1024.0 362.7L1025.0 363.1L1026.0 363.5L1027.0 363.9L1028.0 364.3L1029.1 364.6L1030.1 365.0L1031.1 365.4L1032.1 365.8L1033.1 366.2L1034.1 366.5L1035.1 366.9L1036.1 367.3L1037.1 367.7L1038.2 368.0L1039.2 368.4L1040.2 368.8L1041.2 369.2L1042.2 369.5L1043.2 369.9L1044.2 370.3L1045.2 370.6L1046.2 371.0L1047.3 371.4L1048.3 371.7L1049.3 372.1L1050.3 372.5L1051.3 372.8L1052.3 373.2L1053.3 373.5L1054.3 373.9L1055.3 374.3L1056.4 374.6L1057.4 375.0L1058.4 375.3L1059.4 375.7L1060.4 376.0L1061.4 376.4L1062.4 376.8L1063.4 377.1L1064.4 377.5L1065.5 377.8L1066.5 378.2L1067.5 378.5L1068.5 378.9L1069.5 379.2L1070.5 379.5L1071.5 379.9L1072.5 380.2L1073.5 380.6L1074.6 380.9L1075.6 381.3L1076.6 381.6L1077.6 382.0L1078.6 382.3L1079.6 382.6L1080.6 383.0L1081.6 383.3L1082.6 383.6L1083.7 384.0L1084.7 384.3L1085.7 384.6L1086.7 385.0L1087.7 385.3" stroke="#e50000" stroke-width="3.4" fill="none" stroke-linecap="square" stroke-linejoin="round"/>
<path d="M891.1 -3.5L891.2 -1.6L891.3 0.4L891.4 2.3L891.5 4.3L891.5 6.2L891.6 8.2L891.7 10.1L891.8 12.1L891.9 14.0L892.0 16.0L892.1 18.0L892.2 19.9L892.3 21.9L892.4 23.8L892.5 25.8L892.6 27.7L892.7 29.7L892.8 31.6L892.9 33.6L893.0 35.5L893.1 37.5L893.2 39.5L893.3 41.4L893.4 43.4L893.6 45.3L893.7 47.3L893.8 49.2L893.9 51.2L894.0 53.1L894.2 55.1L894.3 57.0L894.4 59.0L894.5 61.0L894.7 62.9L894.8 64.9L894.9 66.8L895.1 68.8L895.2 70.7L895.4 72.7L895.5 74.6L895.6 76.6L895.8 78.5L895.9 80.5L896.1 82.5L896.2 84.4L896.4 86.4L896.6 88.3L896.7 90.3L896.9 92.2L897.0 94.2L897.2 96.1L897.4 98.1L897.5 100.0L897.7 102.0L897.9 104.0L898.1 105.9L898.3 107.9L898.4 109.8L898.6 111.8L898.8 113.7L899.0 115.7L899.2 117.6L899.4 119.6L899.6 121.5L899.8 123.5L900.0 125.5L900.2 127.4L900.4 129.4L900.7 131.3L900.9 133.3L901.1 135.2L901.3 137.2L901.6 139.1L901.8 141.1L902.0 143.0L902.3 145.0L902.5 147.0L902.8 148.9L903.0 150.9L903.3 152.8L903.5 154.8L903.8 156.7L904.0 158.7L904.3 160.6L904.6 162.6L904.9 164.5L905.1 166.5L905.4 168.5L905.7 170.4L906.0 172.4L906.3 174.3L906.6 176.3L906.9 178.2L907.2 180.2L907.5 182.1L907.8 184.1L908.2 186.0L908.5 188.0L908.8 190.0L909.2 191.9L909.5 193.9L909.8 195.8L910.2 197.8L910.6 199.7L910.9 201.7L911.3 203.6L911.7 205.6L912.0 207.5L912.4 209.5L912.8 211.5L913.2 213.4L913.6 215.4L914.0 217.3L914.4 219.3L914.8 221.2L915.3 223.2L915.7 225.1L916.1 227.1L916.6 229.0L917.0 231.0L917.5 232.9L917.9 234.9L918.4 236.9L918.9 238.8L919.4 240.8L919.9 242.7L920.4 244.7L920.9 246.6L921.4 248.6L921.9 250.5L922.4 252.5L923.0 254.4L923.5 256.4L924.0 258.4L924.6 260.3L925.2 262.3L925.7 264.2L926.3 266.2L926.9 268.1L927.5 270.1L928.1 272.0L928.7 274.0L929.4 275.9L930.0 277.9L930.6 279.9L931.3 281.8L932.0 283.8L932.6 285.7L933.3 287.7L934.0 289.6L934.7 291.6L935.4 293.5L936.1 295.5L936.9 297.4L937.6 299.4L938.4 301.4L939.1 303.3L939.9 305.3L940.7 307.2L941.5 309.2L942.3 311.1L943.1 313.1L943.9 315.0L944.8 317.0L945.7 318.9L946.5 320.9L947.4 322.9L948.3 324.8L949.2 326.8L950.1 328.7L951.1 330.7L952.0 332.6L953.0 334.6L953.9 336.5L954.9 338.5L955.9 340.4L957.0 342.4L958.0 344.4L959.0 346.3L960.1 348.3L961.2 350.2L962.3 352.2L963.4 354.1L964.5 356.1L965.7 358.0L966.8 360.0L968.0 361.9L969.2 363.9L970.4 365.9L971.6 367.8L972.9 369.8L974.1 371.7L975.4 373.7L976.7 375.6L978.0 377.6L979.4 379.5L980.7 381.5L982.1 383.4L983.5 385.4" stroke="#000" stroke-width="3.4" fill="none" stroke-linecap="square" stroke-linejoin="round"/>
<path d="M886.5 307.2L889.2 309.4L891.9 311.5L894.6 313.5L897.3 315.4L900.0 317.3L902.7 319.1L905.4 320.9L908.1 322.6L910.9 324.3L913.6 325.9L916.3 327.4L919.0 328.9L921.7 330.3L924.4 331.7L927.1 333.1L929.8 334.4L932.5 335.7L935.2 336.9L937.9 338.1L940.6 339.3L943.3 340.4L946.0 341.5L948.7 342.5L951.4 343.6L954.1 344.5L956.9 345.5L959.6 346.4L962.3 347.3L965.0 348.2L967.7 349.1L970.4 349.9L973.1 350.7L975.8 351.4L978.5 352.2L981.2 352.9L983.9 353.6L986.6 354.3L989.3 355.0L992.0 355.6L994.7 356.3L997.4 356.9L1000.1 357.5L1002.9 358.1L1005.6 358.6L1008.3 359.2L1011.0 359.7L1013.7 360.2L1016.4 360.7L1019.1 361.2L1021.8 361.7L1024.5 362.2L1027.2 362.6L1029.9 363.1L1032.6 363.5L1035.3 363.9L1038.0 364.3L1040.7 364.7L1043.4 365.1L1046.1 365.5L1048.9 365.9L1051.6 366.2L1054.3 366.6L1057.0 366.9L1059.7 367.3L1062.4 367.6L1065.1 367.9L1067.8 368.2L1070.5 368.5L1073.2 368.8L1075.9 369.1L1078.6 369.4L1081.3 369.7L1084.0 369.9L1086.7 370.2L1089.4 370.5L1092.1 370.7L1094.9 371.0L1097.6 371.2L1100.3 371.5L1103.0 371.7L1105.7 371.9L1108.4 372.2L1111.1 372.4L1113.8 372.6L1116.5 372.8L1119.2 373.0L1121.9 373.2L1124.6 373.4L1127.3 373.6L1130.0 373.8L1132.7 374.0L1135.4 374.2L1138.1 374.4L1140.9 374.6L1143.6 374.8L1146.3 375.0L1149.0 375.1L1151.7 375.3L1154.4 375.5L1157.1 375.6L1159.8 375.8L1162.5 376.0L1165.2 376.1L1167.9 376.3L1170.6 376.4L1173.3 376.6L1176.0 376.7L1178.7 376.9L1181.4 377.0L1184.1 377.2L1186.9 377.3L1189.6 377.4L1192.3 377.6L1195.0 377.7L1197.7 377.8L1200.4 378.0L1203.1 378.1L1205.8 378.2L1208.5 378.4L1211.2 378.5L1213.9 378.6L1216.6 378.7L1219.3 378.9L1222.0 379.0L1224.7 379.1L1227.4 379.2L1230.1 379.3L1232.9 379.4L1235.6 379.6L1238.3 379.7L1241.0 379.8L1243.7 379.9L1246.4 380.0L1249.1 380.1L1251.8 380.2L1254.5 380.3L1257.2 380.4L1259.9 380.5L1262.6 380.6L1265.3 380.7L1268.0 380.8L1270.7 380.9L1273.4 381.0L1276.1 381.1L1278.9 381.2L1281.6 381.3L1284.3 381.4L1287.0 381.5L1289.7 381.6L1292.4 381.7L1295.1 381.8L1297.8 381.9L1300.5 382.0L1303.2 382.1L1305.9 382.1L1308.6 382.2L1311.3 382.3L1314.0 382.4L1316.7 382.5L1319.4 382.6L1322.1 382.7L1324.9 382.7L1327.6 382.8L1330.3 382.9L1333.0 383.0L1335.7 383.1L1338.4 383.2L1341.1 383.2L1343.8 383.3L1346.5 383.4L1349.2 383.5L1351.9 383.5L1354.6 383.6L1357.3 383.7L1360.0 383.8L1362.7 383.9L1365.4 383.9L1368.1 384.0L1370.9 384.1L1373.6 384.1L1376.3 384.2L1379.0 384.3L1381.7 384.4L1384.4 384.4L1387.1 384.5L1389.8 384.6L1392.5 384.6L1395.2 384.7L1397.9 384.8L1400.6 384.9L1403.3 384.9L1406.0 385.0L1408.7 385.1L1411.4 385.1L1414.1 385.2L1416.9 385.3L1419.6 385.3L1422.3 385.4L1425.0 385.4" stroke="#008000" stroke-width="6.5" fill="none" stroke-linecap="square" stroke-linejoin="round"/>
<path d="M886.5 377.0L887.5 377.1L888.5 377.1L889.4 377.2L890.4 377.2L891.4 377.3L892.4 377.3L893.4 377.4L894.3 377.4L895.3 377.5L896.3 377.5L897.3 377.6L898.2 377.6L899.2 377.7L900.2 377.7L901.2 377.8L902.2 377.8L903.1 377.9L904.1 378.0L905.1 378.0L906.1 378.1L907.1 378.1L908.0 378.2L909.0 378.2L910.0 378.3L911.0 378.3L912.0 378.3L912.9 378.4L913.9 378.4L914.9 378.5L915.9 378.5L916.9 378.6L917.8 378.6L918.8 378.7L919.8 378.7L920.8 378.8L921.7 378.8L922.7 378.9L923.7 378.9L924.7 379.0L925.7 379.0L926.6 379.1L927.6 379.1L928.6 379.2L929.6 379.2L930.6 379.3L931.5 379.3L932.5 379.4L933.5 379.4L934.5 379.5L935.5 379.5L936.4 379.6L937.4 379.6L938.4 379.6L939.4 379.7L940.3 379.7L941.3 379.8L942.3 379.8L943.3 379.9L944.3 379.9L945.2 380.0L946.2 380.0L947.2 380.1L948.2 380.1L949.2 380.2L950.1 380.2L951.1 380.2L952.1 380.3L953.1 380.3L954.1 380.4L955.0 380.4L956.0 380.5L957.0 380.5L958.0 380.6L959.0 380.6L959.9 380.6L960.9 380.7L961.9 380.7L962.9 380.8L963.8 380.8L964.8 380.9L965.8 380.9L966.8 381.0L967.8 381.0L968.7 381.0L969.7 381.1L970.7 381.1L971.7 381.2L972.7 381.2L973.6 381.3L974.6 381.3L975.6 381.3L976.6 381.4L977.6 381.4L978.5 381.5L979.5 381.5L980.5 381.6L981.5 381.6L982.4 381.6L983.4 381.7L984.4 381.7L985.4 381.8L986.4 381.8L987.3 381.9L988.3 381.9L989.3 381.9L990.3 382.0L991.3 382.0L992.2 382.1L993.2 382.1L994.2 382.1L995.2 382.2L996.2 382.2L997.1 382.3L998.1 382.3L999.1 382.3L1000.1 382.4L1001.1 382.4L1002.0 382.5L1003.0 382.5L1004.0 382.5L1005.0 382.6L1005.9 382.6L1006.9 382.7L1007.9 382.7L1008.9 382.7L1009.9 382.8L1010.8 382.8L1011.8 382.9L1012.8 382.9L1013.8 382.9L1014.8 383.0L1015.7 383.0L1016.7 383.1L1017.7 383.1L1018.7 383.1L1019.7 383.2L1020.6 383.2L1021.6 383.3L1022.6 383.3L1023.6 383.3L1024.5 383.4L1025.5 383.4L1026.5 383.4L1027.5 383.5L1028.5 383.5L1029.4 383.6L1030.4 383.6L1031.4 383.6L1032.4 383.7L1033.4 383.7L1034.3 383.8L1035.3 383.8L1036.3 383.8L1037.3 383.9L1038.3 383.9L1039.2 383.9L1040.2 384.0L1041.2 384.0L1042.2 384.0L1043.2 384.1L1044.1 384.1L1045.1 384.2L1046.1 384.2L1047.1 384.2L1048.0 384.3L1049.0 384.3L1050.0 384.3L1051.0 384.4L1052.0 384.4L1052.9 384.5L1053.9 384.5L1054.9 384.5L1055.9 384.6L1056.9 384.6L1057.8 384.6L1058.8 384.7L1059.8 384.7L1060.8 384.7L1061.8 384.8L1062.7 384.8L1063.7 384.8L1064.7 384.9L1065.7 384.9L1066.6 384.9L1067.6 385.0L1068.6 385.0L1069.6 385.1L1070.6 385.1L1071.5 385.1L1072.5 385.2L1073.5 385.2L1074.5 385.2L1075.5 385.3L1076.4 385.3L1077.4 385.3L1078.4 385.4L1079.4 385.4L1080.4 385.4L1081.3 385.5" stroke="#008000" stroke-width="3.4" fill="none" stroke-linecap="square" stroke-linejoin="round"/></g>
<rect x="874.50" y="12.40" width="602.90" height="373.00" fill="none" stroke="#7a7a7a" stroke-width="1.5"/>
<path d="M886.50 385.40v-7.3M915.45 385.40v-4.5M944.40 385.40v-4.5M973.35 385.40v-4.5M1002.30 385.40v-4.5M1031.25 385.40v-7.3M1060.20 385.40v-4.5M1089.15 385.40v-4.5M1118.10 385.40v-4.5M1147.05 385.40v-4.5M1176.00 385.40v-7.3M1204.95 385.40v-4.5M1233.90 385.40v-4.5M1262.85 385.40v-4.5M1291.80 385.40v-4.5M1320.75 385.40v-7.3M1349.70 385.40v-4.5M1378.65 385.40v-4.5M1407.60 385.40v-4.5M1436.55 385.40v-4.5M1465.50 385.40v-7.3M874.50 385.40h7.3M874.50 372.08h4.5M874.50 358.76h4.5M874.50 345.44h4.5M874.50 332.12h7.3M874.50 318.80h4.5M874.50 305.48h4.5M874.50 292.16h4.5M874.50 278.84h7.3M874.50 265.52h4.5M874.50 252.20h4.5M874.50 238.88h4.5M874.50 225.56h7.3M874.50 212.24h4.5M874.50 198.92h4.5M874.50 185.60h4.5M874.50 172.28h7.3M874.50 158.96h4.5M874.50 145.64h4.5M874.50 132.32h4.5M874.50 119.00h7.3M874.50 105.68h4.5M874.50 92.36h4.5M874.50 79.04h4.5M874.50 65.72h7.3M874.50 52.40h4.5M874.50 39.08h4.5M874.50 25.76h4.5M874.50 12.44h7.3" stroke="#1a1a1a" stroke-width="1.15" fill="none"/>
<rect x="766.5" y="0.9" width="39.4" height="39.2" rx="3" fill="#fdf0f4" stroke="#888" stroke-width="1.2"/>
<g clip-path="url(#ci)"><path d="M1263.2 67.8L1264.2 79.0L1265.2 90.1L1266.2 101.2L1267.3 112.3L1268.3 123.4L1269.4 134.5L1270.5 145.7L1271.6 156.8L1272.7 167.9L1273.8 179.0L1419.6 179.2L1418.5 178.9L1417.4 178.5L1416.3 178.1L1415.2 177.8L1414.1 177.4L1413.0 177.0L1411.9 176.6L1410.8 176.3L1409.7 175.9L1408.6 175.5L1407.5 175.1L1406.4 174.7L1405.3 174.3L1404.2 173.9L1403.1 173.5L1402.0 173.1L1400.9 172.7L1399.8 172.3L1398.7 171.9L1397.6 171.5L1396.5 171.1L1395.4 170.6L1394.3 170.2L1393.2 169.8L1392.1 169.3L1391.0 168.9L1389.9 168.5L1388.8 168.0L1387.7 167.6L1386.6 167.1L1385.5 166.7L1384.5 166.2L1383.4 165.8L1382.3 165.3L1381.2 164.9L1380.1 164.4L1379.0 163.9L1377.9 163.4L1376.8 163.0L1375.7 162.5L1374.6 162.0L1373.5 161.5L1372.4 161.0L1371.3 160.5L1370.2 160.0L1369.1 159.5L1368.0 159.0L1366.9 158.5L1365.8 157.9L1364.7 157.4L1363.6 156.9L1362.5 156.4L1361.4 155.8L1360.3 155.3L1359.2 154.7L1358.1 154.2L1357.0 153.6L1355.9 153.0L1354.8 152.5L1353.7 151.9L1352.6 151.3L1351.5 150.7L1350.4 150.1L1349.3 149.5L1348.2 148.9L1347.1 148.3L1346.0 147.7L1344.9 147.1L1343.8 146.4L1342.8 145.8L1341.7 145.1L1340.6 144.5L1339.5 143.8L1338.4 143.2L1337.3 142.5L1336.2 141.8L1335.1 141.1L1334.0 140.4L1332.9 139.7L1331.8 139.0L1330.7 138.3L1329.6 137.5L1328.5 136.8L1327.4 136.0L1326.3 135.3L1325.2 134.5L1324.1 133.7L1323.0 132.9L1321.9 132.1L1320.8 131.3L1319.7 130.5L1318.6 129.7L1317.5 128.8L1316.4 127.9L1315.3 127.1L1314.2 126.2L1313.1 125.3L1312.0 124.4L1310.9 123.4L1309.8 122.5L1308.7 121.5L1307.6 120.6L1306.5 119.6L1305.4 118.6L1304.3 117.5L1303.2 116.5L1302.2 115.5L1301.1 114.4L1300.0 113.3L1298.9 112.2L1297.8 111.0L1296.7 109.9L1295.6 108.7L1294.5 107.5L1293.4 106.3L1292.3 105.0L1291.2 103.8L1290.1 102.5L1289.0 101.2L1287.9 99.8L1286.8 98.4L1285.7 97.0L1284.6 95.6L1283.5 94.1L1282.4 92.7L1281.3 91.1L1280.2 89.6L1279.1 88.0L1278.0 86.4L1276.9 84.7L1275.8 83.0L1274.7 81.3L1273.6 79.5L1272.5 77.7L1271.4 75.8L1270.3 73.9L1269.2 71.9L1268.1 69.9L1267.0 67.9L1265.9 65.8L1264.8 63.6L1263.7 61.4Z" fill="#e6fde6"/>
<path d="M1240.0 167.9L1240.5 179.0L1280.2 179.3L1279.8 179.2L1279.4 179.0L1279.0 178.8L1278.6 178.6L1278.2 178.4L1277.8 178.2L1277.4 178.0L1277.0 177.8L1276.6 177.6L1276.2 177.4L1275.8 177.2L1275.4 177.0L1275.0 176.8L1274.7 176.6L1274.3 176.4L1273.9 176.2L1273.5 176.0L1273.1 175.8L1272.7 175.6L1272.3 175.4L1271.9 175.2L1271.5 175.0L1271.1 174.8L1270.7 174.6L1270.3 174.4L1269.9 174.2L1269.5 174.0L1269.1 173.8L1268.7 173.6L1268.3 173.4L1267.9 173.2L1267.5 173.0L1267.1 172.8L1266.7 172.6L1266.3 172.4L1265.9 172.2L1265.5 171.9L1265.1 171.7L1264.7 171.5L1264.3 171.3L1263.9 171.1L1263.5 170.9L1263.1 170.7L1262.7 170.5L1262.3 170.3L1261.9 170.1L1261.5 169.8L1261.2 169.6L1260.8 169.4L1260.4 169.2L1260.0 169.0L1259.6 168.8L1259.2 168.6L1258.8 168.3L1258.4 168.1L1258.0 167.9L1257.6 167.7L1257.2 167.5L1256.8 167.3L1256.4 167.0L1256.0 166.8L1255.6 166.6L1255.2 166.4L1254.8 166.2L1254.4 165.9L1254.0 165.7L1253.6 165.5L1253.2 165.3L1252.8 165.0L1252.4 164.8L1252.0 164.6L1251.6 164.4L1251.2 164.1L1250.8 163.9L1250.4 163.7L1250.0 163.5L1249.6 163.2L1249.2 163.0L1248.8 162.8L1248.4 162.6L1248.1 162.3L1247.7 162.1L1247.3 161.9L1246.9 161.6L1246.5 161.4L1246.1 161.2L1245.7 160.9L1245.3 160.7L1244.9 160.5L1244.5 160.2L1244.1 160.0L1243.7 159.8L1243.3 159.5L1242.9 159.3L1242.5 159.1L1242.1 158.8L1241.7 158.6L1241.3 158.3L1240.9 158.1L1240.5 157.9L1240.1 157.6Z" fill="#e6fde6"/>
<path d="M1203.9 -2032.9L1204.0 -2021.8L1204.0 -2010.7L1204.1 -1999.6L1204.1 -1988.4L1204.2 -1977.3L1204.2 -1966.2L1204.3 -1955.1L1204.4 -1944.0L1204.4 -1932.9L1204.5 -1921.7L1204.5 -1910.6L1204.6 -1899.5L1204.7 -1888.4L1204.7 -1877.3L1204.8 -1866.2L1204.8 -1855.1L1204.9 -1843.9L1205.0 -1832.8L1205.0 -1821.7L1205.1 -1810.6L1205.2 -1799.5L1205.3 -1788.4L1205.3 -1777.3L1205.4 -1766.1L1205.5 -1755.0L1205.5 -1743.9L1205.6 -1732.8L1205.7 -1721.7L1205.8 -1710.6L1205.9 -1699.4L1205.9 -1688.3L1206.0 -1677.2L1206.1 -1666.1L1206.2 -1655.0L1206.3 -1643.9L1206.4 -1632.8L1206.5 -1621.6L1206.5 -1610.5L1206.6 -1599.4L1206.7 -1588.3L1206.8 -1577.2L1206.9 -1566.1L1207.0 -1555.0L1207.1 -1543.8L1207.2 -1532.7L1207.3 -1521.6L1207.4 -1510.5L1207.5 -1499.4L1207.7 -1488.3L1207.8 -1477.1L1207.9 -1466.0L1208.0 -1454.9L1208.1 -1443.8L1208.2 -1432.7L1208.3 -1421.6L1208.5 -1410.5L1208.6 -1399.3L1208.7 -1388.2L1208.8 -1377.1L1209.0 -1366.0L1209.1 -1354.9L1209.2 -1343.8L1209.4 -1332.7L1209.5 -1321.5L1209.6 -1310.4L1209.8 -1299.3L1209.9 -1288.2L1210.1 -1277.1L1210.2 -1266.0L1210.4 -1254.8L1210.5 -1243.7L1210.7 -1232.6L1210.8 -1221.5L1211.0 -1210.4L1211.2 -1199.3L1211.3 -1188.2L1211.5 -1177.0L1211.7 -1165.9L1211.8 -1154.8L1212.0 -1143.7L1212.2 -1132.6L1212.4 -1121.5L1212.5 -1110.3L1212.7 -1099.2L1212.9 -1088.1L1213.1 -1077.0L1213.3 -1065.9L1213.5 -1054.8L1213.7 -1043.7L1213.9 -1032.5L1214.1 -1021.4L1214.3 -1010.3L1214.6 -999.2L1214.8 -988.1L1215.0 -977.0L1215.2 -965.9L1215.5 -954.7L1215.7 -943.6L1215.9 -932.5L1216.2 -921.4L1216.4 -910.3L1216.7 -899.2L1216.9 -888.0L1217.2 -876.9L1217.4 -865.8L1217.7 -854.7L1218.0 -843.6L1218.2 -832.5L1218.5 -821.4L1218.8 -810.2L1219.1 -799.1L1219.4 -788.0L1219.7 -776.9L1220.0 -765.8L1220.3 -754.7L1220.6 -743.6L1220.9 -732.4L1221.2 -721.3L1221.5 -710.2L1221.9 -699.1L1222.2 -688.0L1222.5 -676.9L1222.9 -665.7L1223.2 -654.6L1223.6 -643.5L1224.0 -632.4L1224.3 -621.3L1224.7 -610.2L1225.1 -599.1L1225.5 -587.9L1225.9 -576.8L1226.3 -565.7L1226.7 -554.6L1227.1 -543.5L1227.5 -532.4L1227.9 -521.2L1228.3 -510.1L1228.8 -499.0L1229.2 -487.9L1229.7 -476.8L1230.1 -465.7L1230.6 -454.6L1231.1 -443.4L1231.6 -432.3L1232.0 -421.2L1232.5 -410.1L1233.0 -399.0L1233.6 -387.9L1234.1 -376.8L1234.6 -365.6L1235.1 -354.5L1235.7 -343.4L1236.2 -332.3L1236.8 -321.2L1237.4 -310.1L1237.9 -298.9L1238.5 -287.8L1239.1 -276.7L1239.7 -265.6L1240.4 -254.5L1241.0 -243.4L1241.6 -232.3L1242.3 -221.1L1242.9 -210.0L1243.6 -198.9L1244.3 -187.8L1245.0 -176.7L1245.7 -165.6L1246.4 -154.5L1247.1 -143.3L1247.8 -132.2L1248.6 -121.1L1249.3 -110.0L1250.1 -98.9L1250.9 -87.8L1251.7 -76.6L1252.5 -65.5L1253.3 -54.4L1254.1 -43.3L1255.0 -32.2L1255.8 -21.1L1256.7 -10.0L1257.6 1.2L1258.5 12.3L1259.4 23.4L1260.3 34.5L1261.3 45.6L1262.2 56.7L1263.2 67.8L1264.2 79.0L1265.2 90.1L1266.2 101.2L1267.3 112.3L1268.3 123.4L1269.4 134.5L1270.5 145.7L1271.6 156.8L1272.7 167.9L1273.8 179.0" stroke="#000" stroke-width="4.2" fill="none" stroke-linecap="square" stroke-linejoin="round"/>
<path d="M1203.1 -2032.9L1203.1 -2021.8L1203.1 -2010.7L1203.2 -1999.6L1203.2 -1988.4L1203.2 -1977.3L1203.3 -1966.2L1203.3 -1955.1L1203.4 -1944.0L1203.4 -1932.9L1203.4 -1921.7L1203.5 -1910.6L1203.5 -1899.5L1203.5 -1888.4L1203.6 -1877.3L1203.6 -1866.2L1203.7 -1855.1L1203.7 -1843.9L1203.8 -1832.8L1203.8 -1821.7L1203.8 -1810.6L1203.9 -1799.5L1203.9 -1788.4L1204.0 -1777.3L1204.0 -1766.1L1204.1 -1755.0L1204.1 -1743.9L1204.2 -1732.8L1204.2 -1721.7L1204.3 -1710.6L1204.3 -1699.4L1204.4 -1688.3L1204.4 -1677.2L1204.5 -1666.1L1204.5 -1655.0L1204.6 -1643.9L1204.6 -1632.8L1204.7 -1621.6L1204.7 -1610.5L1204.8 -1599.4L1204.8 -1588.3L1204.9 -1577.2L1205.0 -1566.1L1205.0 -1555.0L1205.1 -1543.8L1205.2 -1532.7L1205.2 -1521.6L1205.3 -1510.5L1205.3 -1499.4L1205.4 -1488.3L1205.5 -1477.1L1205.5 -1466.0L1205.6 -1454.9L1205.7 -1443.8L1205.8 -1432.7L1205.8 -1421.6L1205.9 -1410.5L1206.0 -1399.3L1206.0 -1388.2L1206.1 -1377.1L1206.2 -1366.0L1206.3 -1354.9L1206.4 -1343.8L1206.4 -1332.7L1206.5 -1321.5L1206.6 -1310.4L1206.7 -1299.3L1206.8 -1288.2L1206.9 -1277.1L1206.9 -1266.0L1207.0 -1254.8L1207.1 -1243.7L1207.2 -1232.6L1207.3 -1221.5L1207.4 -1210.4L1207.5 -1199.3L1207.6 -1188.2L1207.7 -1177.0L1207.8 -1165.9L1207.9 -1154.8L1208.0 -1143.7L1208.1 -1132.6L1208.2 -1121.5L1208.3 -1110.3L1208.4 -1099.2L1208.5 -1088.1L1208.6 -1077.0L1208.8 -1065.9L1208.9 -1054.8L1209.0 -1043.7L1209.1 -1032.5L1209.2 -1021.4L1209.3 -1010.3L1209.5 -999.2L1209.6 -988.1L1209.7 -977.0L1209.9 -965.9L1210.0 -954.7L1210.1 -943.6L1210.3 -932.5L1210.4 -921.4L1210.5 -910.3L1210.7 -899.2L1210.8 -888.0L1211.0 -876.9L1211.1 -865.8L1211.3 -854.7L1211.4 -843.6L1211.6 -832.5L1211.7 -821.4L1211.9 -810.2L1212.0 -799.1L1212.2 -788.0L1212.4 -776.9L1212.5 -765.8L1212.7 -754.7L1212.9 -743.6L1213.0 -732.4L1213.2 -721.3L1213.4 -710.2L1213.6 -699.1L1213.8 -688.0L1214.0 -676.9L1214.1 -665.7L1214.3 -654.6L1214.5 -643.5L1214.7 -632.4L1214.9 -621.3L1215.1 -610.2L1215.3 -599.1L1215.6 -587.9L1215.8 -576.8L1216.0 -565.7L1216.2 -554.6L1216.4 -543.5L1216.7 -532.4L1216.9 -521.2L1217.1 -510.1L1217.3 -499.0L1217.6 -487.9L1217.8 -476.8L1218.1 -465.7L1218.3 -454.6L1218.6 -443.4L1218.8 -432.3L1219.1 -421.2L1219.4 -410.1L1219.6 -399.0L1219.9 -387.9L1220.2 -376.8L1220.5 -365.6L1220.7 -354.5L1221.0 -343.4L1221.3 -332.3L1221.6 -321.2L1221.9 -310.1L1222.2 -298.9L1222.5 -287.8L1222.9 -276.7L1223.2 -265.6L1223.5 -254.5L1223.8 -243.4L1224.2 -232.3L1224.5 -221.1L1224.8 -210.0L1225.2 -198.9L1225.5 -187.8L1225.9 -176.7L1226.3 -165.6L1226.6 -154.5L1227.0 -143.3L1227.4 -132.2L1227.8 -121.1L1228.2 -110.0L1228.6 -98.9L1229.0 -87.8L1229.4 -76.6L1229.8 -65.5L1230.2 -54.4L1230.6 -43.3L1231.0 -32.2L1231.5 -21.1L1231.9 -10.0L1232.4 1.2L1232.8 12.3L1233.3 23.4L1233.8 34.5L1234.2 45.6L1234.7 56.7L1235.2 67.8L1235.7 79.0L1236.2 90.1L1236.7 101.2L1237.3 112.3L1237.8 123.4L1238.3 134.5L1238.9 145.7L1239.4 156.8L1240.0 167.9L1240.5 179.0" stroke="#000" stroke-width="2.0" fill="none" stroke-linecap="square" stroke-linejoin="round"/>
<path d="M1201.2 -265.5L1202.3 -253.3L1203.4 -241.4L1204.5 -230.0L1205.6 -218.9L1206.7 -208.2L1207.8 -197.8L1208.9 -187.8L1210.0 -178.1L1211.1 -168.7L1212.2 -159.6L1213.3 -150.8L1214.4 -142.3L1215.5 -134.1L1216.6 -126.1L1217.7 -118.4L1218.8 -110.9L1219.9 -103.7L1221.0 -96.7L1222.0 -89.9L1223.1 -83.3L1224.2 -76.9L1225.3 -70.8L1226.4 -64.8L1227.5 -59.0L1228.6 -53.4L1229.7 -47.9L1230.8 -42.6L1231.9 -37.5L1233.0 -32.5L1234.1 -27.7L1235.2 -23.0L1236.3 -18.5L1237.4 -14.1L1238.5 -9.8L1239.6 -5.7L1240.7 -1.6L1241.8 2.3L1242.9 6.1L1244.0 9.8L1245.1 13.4L1246.2 16.9L1247.3 20.2L1248.4 23.5L1249.5 26.7L1250.6 29.9L1251.7 32.9L1252.8 35.8L1253.9 38.7L1255.0 41.5L1256.1 44.2L1257.2 46.9L1258.3 49.5L1259.4 52.0L1260.5 54.4L1261.6 56.8L1262.6 59.1L1263.7 61.4L1264.8 63.6L1265.9 65.8L1267.0 67.9L1268.1 69.9L1269.2 71.9L1270.3 73.9L1271.4 75.8L1272.5 77.7L1273.6 79.5L1274.7 81.3L1275.8 83.0L1276.9 84.7L1278.0 86.4L1279.1 88.0L1280.2 89.6L1281.3 91.1L1282.4 92.7L1283.5 94.1L1284.6 95.6L1285.7 97.0L1286.8 98.4L1287.9 99.8L1289.0 101.2L1290.1 102.5L1291.2 103.8L1292.3 105.0L1293.4 106.3L1294.5 107.5L1295.6 108.7L1296.7 109.9L1297.8 111.0L1298.9 112.2L1300.0 113.3L1301.1 114.4L1302.2 115.5L1303.2 116.5L1304.3 117.5L1305.4 118.6L1306.5 119.6L1307.6 120.6L1308.7 121.5L1309.8 122.5L1310.9 123.4L1312.0 124.4L1313.1 125.3L1314.2 126.2L1315.3 127.1L1316.4 127.9L1317.5 128.8L1318.6 129.7L1319.7 130.5L1320.8 131.3L1321.9 132.1L1323.0 132.9L1324.1 133.7L1325.2 134.5L1326.3 135.3L1327.4 136.0L1328.5 136.8L1329.6 137.5L1330.7 138.3L1331.8 139.0L1332.9 139.7L1334.0 140.4L1335.1 141.1L1336.2 141.8L1337.3 142.5L1338.4 143.2L1339.5 143.8L1340.6 144.5L1341.7 145.1L1342.8 145.8L1343.8 146.4L1344.9 147.1L1346.0 147.7L1347.1 148.3L1348.2 148.9L1349.3 149.5L1350.4 150.1L1351.5 150.7L1352.6 151.3L1353.7 151.9L1354.8 152.5L1355.9 153.0L1357.0 153.6L1358.1 154.2L1359.2 154.7L1360.3 155.3L1361.4 155.8L1362.5 156.4L1363.6 156.9L1364.7 157.4L1365.8 157.9L1366.9 158.5L1368.0 159.0L1369.1 159.5L1370.2 160.0L1371.3 160.5L1372.4 161.0L1373.5 161.5L1374.6 162.0L1375.7 162.5L1376.8 163.0L1377.9 163.4L1379.0 163.9L1380.1 164.4L1381.2 164.9L1382.3 165.3L1383.4 165.8L1384.5 166.2L1385.5 166.7L1386.6 167.1L1387.7 167.6L1388.8 168.0L1389.9 168.5L1391.0 168.9L1392.1 169.3L1393.2 169.8L1394.3 170.2L1395.4 170.6L1396.5 171.1L1397.6 171.5L1398.7 171.9L1399.8 172.3L1400.9 172.7L1402.0 173.1L1403.1 173.5L1404.2 173.9L1405.3 174.3L1406.4 174.7L1407.5 175.1L1408.6 175.5L1409.7 175.9L1410.8 176.3L1411.9 176.6L1413.0 177.0L1414.1 177.4L1415.2 177.8L1416.3 178.1L1417.4 178.5L1418.5 178.9L1419.6 179.2" stroke="#008000" stroke-width="4.2" fill="none" stroke-linecap="square" stroke-linejoin="round"/>
<path d="M1201.2 131.4L1201.6 131.7L1202.0 132.0L1202.4 132.3L1202.8 132.6L1203.2 132.9L1203.6 133.2L1204.0 133.4L1204.4 133.7L1204.8 134.0L1205.2 134.3L1205.6 134.6L1206.0 134.9L1206.4 135.2L1206.8 135.5L1207.2 135.8L1207.6 136.1L1207.9 136.3L1208.3 136.6L1208.7 136.9L1209.1 137.2L1209.5 137.5L1209.9 137.8L1210.3 138.1L1210.7 138.3L1211.1 138.6L1211.5 138.9L1211.9 139.2L1212.3 139.5L1212.7 139.7L1213.1 140.0L1213.5 140.3L1213.9 140.6L1214.3 140.9L1214.7 141.1L1215.1 141.4L1215.5 141.7L1215.9 142.0L1216.3 142.2L1216.7 142.5L1217.1 142.8L1217.5 143.1L1217.9 143.3L1218.3 143.6L1218.7 143.9L1219.1 144.1L1219.5 144.4L1219.9 144.7L1220.3 144.9L1220.7 145.2L1221.1 145.5L1221.4 145.7L1221.8 146.0L1222.2 146.3L1222.6 146.5L1223.0 146.8L1223.4 147.1L1223.8 147.3L1224.2 147.6L1224.6 147.9L1225.0 148.1L1225.4 148.4L1225.8 148.6L1226.2 148.9L1226.6 149.2L1227.0 149.4L1227.4 149.7L1227.8 149.9L1228.2 150.2L1228.6 150.4L1229.0 150.7L1229.4 151.0L1229.8 151.2L1230.2 151.5L1230.6 151.7L1231.0 152.0L1231.4 152.2L1231.8 152.5L1232.2 152.7L1232.6 153.0L1233.0 153.2L1233.4 153.5L1233.8 153.7L1234.2 154.0L1234.6 154.2L1234.9 154.5L1235.3 154.7L1235.7 155.0L1236.1 155.2L1236.5 155.5L1236.9 155.7L1237.3 155.9L1237.7 156.2L1238.1 156.4L1238.5 156.7L1238.9 156.9L1239.3 157.2L1239.7 157.4L1240.1 157.6L1240.5 157.9L1240.9 158.1L1241.3 158.3L1241.7 158.6L1242.1 158.8L1242.5 159.1L1242.9 159.3L1243.3 159.5L1243.7 159.8L1244.1 160.0L1244.5 160.2L1244.9 160.5L1245.3 160.7L1245.7 160.9L1246.1 161.2L1246.5 161.4L1246.9 161.6L1247.3 161.9L1247.7 162.1L1248.1 162.3L1248.4 162.6L1248.8 162.8L1249.2 163.0L1249.6 163.2L1250.0 163.5L1250.4 163.7L1250.8 163.9L1251.2 164.1L1251.6 164.4L1252.0 164.6L1252.4 164.8L1252.8 165.0L1253.2 165.3L1253.6 165.5L1254.0 165.7L1254.4 165.9L1254.8 166.2L1255.2 166.4L1255.6 166.6L1256.0 166.8L1256.4 167.0L1256.8 167.3L1257.2 167.5L1257.6 167.7L1258.0 167.9L1258.4 168.1L1258.8 168.3L1259.2 168.6L1259.6 168.8L1260.0 169.0L1260.4 169.2L1260.8 169.4L1261.2 169.6L1261.5 169.8L1261.9 170.1L1262.3 170.3L1262.7 170.5L1263.1 170.7L1263.5 170.9L1263.9 171.1L1264.3 171.3L1264.7 171.5L1265.1 171.7L1265.5 171.9L1265.9 172.2L1266.3 172.4L1266.7 172.6L1267.1 172.8L1267.5 173.0L1267.9 173.2L1268.3 173.4L1268.7 173.6L1269.1 173.8L1269.5 174.0L1269.9 174.2L1270.3 174.4L1270.7 174.6L1271.1 174.8L1271.5 175.0L1271.9 175.2L1272.3 175.4L1272.7 175.6L1273.1 175.8L1273.5 176.0L1273.9 176.2L1274.3 176.4L1274.7 176.6L1275.0 176.8L1275.4 177.0L1275.8 177.2L1276.2 177.4L1276.6 177.6L1277.0 177.8L1277.4 178.0L1277.8 178.2L1278.2 178.4L1278.6 178.6L1279.0 178.8L1279.4 179.0L1279.8 179.2L1280.2 179.3" stroke="#008000" stroke-width="2.0" fill="none" stroke-linecap="square" stroke-linejoin="round"/></g>
<rect x="1196.2" y="27.5" width="244.6" height="151.5" fill="none" stroke="#6e6e6e" stroke-width="1.1"/>
<path d="M1318.6 179v-4.5M1436.0 179v-4.5M1196.2 103.2h4.6M1196.2 27.5h4.7M1196.2 179h4.7" stroke="#1a1a1a" stroke-width="1" fill="none"/>
<path d="M1330 256V341.3M1263.9 284.7H1474.2" stroke="#000" stroke-width="1.6" fill="none"/>
<line x1="1338.3" y1="301.2" x2="1377.6" y2="301.2" stroke="#008000" stroke-width="6.3"/>
<line x1="1383.6" y1="301.2" x2="1423.0" y2="301.2" stroke="#e50000" stroke-width="6.3"/>
<line x1="1429.0" y1="301.2" x2="1468.7" y2="301.2" stroke="#000" stroke-width="6.3"/>
<line x1="1338.3" y1="334.9" x2="1377.6" y2="334.9" stroke="#008000" stroke-width="3.6"/>
<line x1="1383.6" y1="334.9" x2="1423.0" y2="334.9" stroke="#e50000" stroke-width="3.6"/>
<line x1="1429.0" y1="334.9" x2="1468.7" y2="334.9" stroke="#000" stroke-width="3.6"/>
<g class="tx" style="filter:grayscale(1)"><text x="108.30" y="422.20" font-size="31.2" text-anchor="middle">0.0</text>
<text x="225.06" y="422.20" font-size="31.2" text-anchor="middle">0.2</text>
<text x="342.32" y="422.20" font-size="31.2" text-anchor="middle">0.4</text>
<text x="459.08" y="422.20" font-size="31.2" text-anchor="middle">0.6</text>
<text x="576.34" y="422.20" font-size="31.2" text-anchor="middle">0.8</text>
<text x="672.60" y="422.20" font-size="31.2" text-anchor="start"><tspan class="h1">1</tspan>.0</text>
<text x="89.80" y="398.20" font-size="31.2" text-anchor="end">0.0</text>
<text x="89.80" y="336.15" font-size="31.2" text-anchor="end">0.5</text>
<text x="89.80" y="273.10" font-size="31.2" text-anchor="end"><tspan class="h1">1</tspan>.0</text>
<text x="89.80" y="210.05" font-size="31.2" text-anchor="end"><tspan class="h1">1</tspan>.5</text>
<text x="89.80" y="147.00" font-size="31.2" text-anchor="end">2.0</text>
<text x="89.80" y="84.95" font-size="31.2" text-anchor="end">2.5</text>
<text x="89.80" y="21.90" font-size="31.2" text-anchor="end">3.0</text>
<text x="368.20" y="468.26" font-size="31.2" text-anchor="start">g<tspan font-size="35" dy="4.1">/</tspan><tspan class="i" dy="-4.1">κ</tspan><tspan class="i" font-size="21.5" dy="5.6">m</tspan></text>
<text x="519.00" y="45.26" font-size="23.7" text-anchor="start" textLength="102.1" lengthAdjust="spacingAndGlyphs"><tspan class="i" font-size="22.5">τκ</tspan><tspan class="i" font-size="17.8" dy="4.6">m</tspan><tspan dy="-4.6" dx="7">=200</tspan></text>
<text x="512.60" y="89.26" font-size="23.7" text-anchor="start" textLength="101.7" lengthAdjust="spacingAndGlyphs"><tspan class="i" font-size="22.5">τκ</tspan><tspan class="i" font-size="17.8" dy="4.6">m</tspan><tspan dy="-4.6" dx="7">=<tspan class="h1">1</tspan>00</tspan></text>
<text x="512.60" y="133.66" font-size="23.7" text-anchor="start" textLength="88.5" lengthAdjust="spacingAndGlyphs"><tspan class="i" font-size="22.5">τκ</tspan><tspan class="i" font-size="17.8" dy="4.6">m</tspan><tspan dy="-4.6" dx="7">=50</tspan></text>
<text x="512.60" y="178.06" font-size="23.7" text-anchor="start" textLength="88.5" lengthAdjust="spacingAndGlyphs"><tspan class="i" font-size="22.5">τκ</tspan><tspan class="i" font-size="17.8" dy="4.6">m</tspan><tspan dy="-4.6" dx="7">=<tspan class="h1">1</tspan>0</tspan></text>
<text x="4.60" y="28.40" font-size="31" text-anchor="start" font-weight="bold" textLength="30.1" lengthAdjust="spacingAndGlyphs">a)</text>
<text x="770.00" y="28.40" font-size="31" text-anchor="start" font-weight="bold" textLength="29.8" lengthAdjust="spacingAndGlyphs">b)</text>
<text x="883.30" y="423.60" font-size="31.2" text-anchor="middle" textLength="79.9" lengthAdjust="spacingAndGlyphs">0.000</text>
<text x="1027.50" y="423.60" font-size="31.2" text-anchor="middle" textLength="79.9" lengthAdjust="spacingAndGlyphs">0.005</text>
<text x="1174.30" y="423.60" font-size="31.2" text-anchor="middle" textLength="79.9" lengthAdjust="spacingAndGlyphs">0.0<tspan class="h1">1</tspan>0</text>
<text x="1320.10" y="423.60" font-size="31.2" text-anchor="middle" textLength="79.9" lengthAdjust="spacingAndGlyphs">0.0<tspan class="h1">1</tspan>5</text>
<text x="1423.20" y="423.60" font-size="31.2" text-anchor="start" textLength="79.9" lengthAdjust="spacingAndGlyphs">0.020</text>
<text x="864.40" y="396.00" font-size="31.2" text-anchor="end">0.0</text>
<text x="864.40" y="342.84" font-size="31.2" text-anchor="end">0.2</text>
<text x="863.40" y="289.68" font-size="31.2" text-anchor="end">0.4</text>
<text x="864.40" y="236.52" font-size="31.2" text-anchor="end">0.6</text>
<text x="864.40" y="183.36" font-size="31.2" text-anchor="end">0.8</text>
<text x="870.60" y="130.20" font-size="31.2" text-anchor="end"><tspan class="h1">1</tspan>.0</text>
<text x="870.60" y="77.04" font-size="31.2" text-anchor="end"><tspan class="h1">1</tspan>.2</text>
<text x="870.60" y="23.88" font-size="31.2" text-anchor="end"><tspan class="h1">1</tspan>.4</text>
<text x="1131.40" y="474.06" font-size="31.2" text-anchor="start"><tspan class="ser" font-size="32.5">Γ</tspan><tspan class="i" font-size="23" dy="5.3" dx="0.5">m</tspan><tspan font-size="35" dy="-1.4" dx="1">/</tspan><tspan class="i" font-size="27.5" dy="-3.9" dx="0.9">κ</tspan><tspan class="i" font-size="23" dy="5.3" dx="1.3">m</tspan></text>
<text x="1192.40" y="40.40" font-size="31.2" text-anchor="end">0.<tspan class="h1">1</tspan></text>
<text x="1184.20" y="116.26" font-size="31.2" text-anchor="end">0.05</text>
<text x="1189.40" y="192.80" font-size="31.2" text-anchor="end">0</text>
<text x="1287.40" y="217.80" font-size="31.2" text-anchor="start">0.0<tspan class="h1">1</tspan></text>
<text x="1403.40" y="217.80" font-size="31.2" text-anchor="start">0.02</text>
<text x="1263.80" y="270.76" font-size="20.5" text-anchor="start" textLength="56.2" lengthAdjust="spacingAndGlyphs">g/<tspan class="i" font-size="13.5">κ</tspan><tspan class="i" font-size="18" dy="5.2">m</tspan><tspan dy="-5.2" dx="7">:</tspan></text>
<text x="1336.60" y="273.60" font-size="20.8" text-anchor="start">0.05</text>
<text x="1397.60" y="273.60" font-size="20.8" text-anchor="start">0.<tspan class="h1">1</tspan></text>
<text x="1441.00" y="273.60" font-size="20.8" text-anchor="start">0.4</text>
<text x="1266.80" y="303.94" font-size="21.3" text-anchor="start" textLength="51.4" lengthAdjust="spacingAndGlyphs"><tspan class="i">n</tspan><tspan font-size="19" dy="5.4">0</tspan><tspan dy="-5.4" dx="4">=0</tspan></text>
<text x="1266.80" y="336.34" font-size="21.3" text-anchor="start" textLength="51.4" lengthAdjust="spacingAndGlyphs"><tspan class="i">n</tspan><tspan font-size="19" dy="5.4">0</tspan><tspan dy="-5.4" dx="4">=3</tspan></text>
<text class="i" font-size="31.2" transform="translate(22.4,215.6) rotate(-90)">E<tspan font-size="20.5" dy="6.5" dx="0.5">η</tspan></text>
<text class="i" font-size="31.2" transform="translate(791.2,215.2) rotate(-90)">E<tspan font-size="20.5" dy="7" dx="-4">η</tspan></text>
<path transform="translate(672.60,422.20) scale(0.01524,-0.01523)" d="M515 0V1237L197 1010V1180L530 1409H696V0Z" style="stroke-width:23.0px"/>
<path transform="translate(46.43,273.10) scale(0.01524,-0.01523)" d="M515 0V1237L197 1010V1180L530 1409H696V0Z" style="stroke-width:23.0px"/>
<path transform="translate(46.43,210.05) scale(0.01524,-0.01523)" d="M515 0V1237L197 1010V1180L530 1409H696V0Z" style="stroke-width:23.0px"/>
<path transform="translate(571.91,89.26) scale(0.01241,-0.01157)" d="M515 0V1237L197 1010V1180L530 1409H696V0Z" style="stroke-width:29.2px"/>
<path transform="translate(572.53,178.06) scale(0.01254,-0.01157)" d="M515 0V1237L197 1010V1180L530 1409H696V0Z" style="stroke-width:29.0px"/>
<path transform="translate(1178.72,423.60) scale(0.01560,-0.01523)" d="M515 0V1237L197 1010V1180L530 1409H696V0Z" style="stroke-width:22.7px"/>
<path transform="translate(1324.52,423.60) scale(0.01560,-0.01523)" d="M515 0V1237L197 1010V1180L530 1409H696V0Z" style="stroke-width:22.7px"/>
<path transform="translate(827.22,130.20) scale(0.01524,-0.01523)" d="M515 0V1237L197 1010V1180L530 1409H696V0Z" style="stroke-width:23.0px"/>
<path transform="translate(827.22,77.04) scale(0.01524,-0.01523)" d="M515 0V1237L197 1010V1180L530 1409H696V0Z" style="stroke-width:23.0px"/>
<path transform="translate(827.22,23.88) scale(0.01524,-0.01523)" d="M515 0V1237L197 1010V1180L530 1409H696V0Z" style="stroke-width:23.0px"/>
<path transform="translate(1175.04,40.40) scale(0.01524,-0.01523)" d="M515 0V1237L197 1010V1180L530 1409H696V0Z" style="stroke-width:23.0px"/>
<path transform="translate(1330.76,217.80) scale(0.01524,-0.01523)" d="M515 0V1237L197 1010V1180L530 1409H696V0Z" style="stroke-width:23.0px"/>
<path transform="translate(1414.96,273.60) scale(0.01017,-0.01016)" d="M515 0V1237L197 1010V1180L530 1409H696V0Z" style="stroke-width:34.4px"/>
</g>
</svg></body></html>
